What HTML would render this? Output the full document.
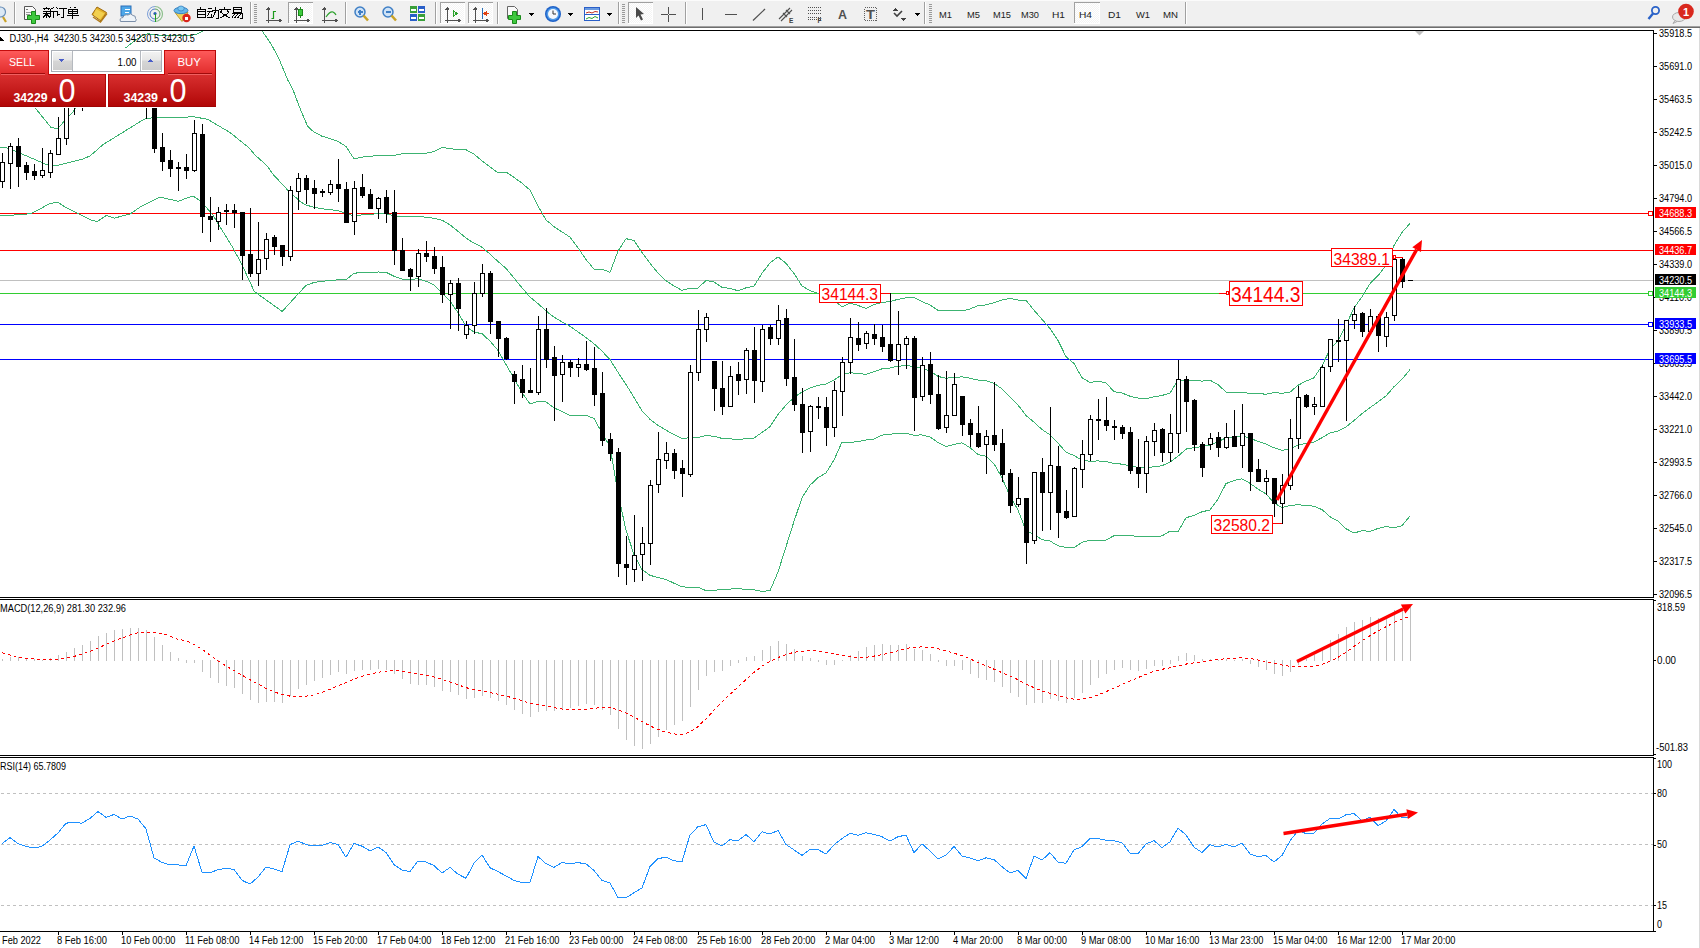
<!DOCTYPE html><html><head><meta charset="utf-8"><style>html,body{margin:0;padding:0;background:#fff;overflow:hidden}svg{display:block}</style></head><body><svg width="1700" height="948" viewBox="0 0 1700 948" shape-rendering="crispEdges" font-family="Liberation Sans, sans-serif">
<rect x="0" y="28" width="1700" height="920" fill="#ffffff"/>
<rect x="1699" y="28" width="1" height="920" fill="#dadada"/>
<rect x="0" y="30" width="1653" height="1" fill="#000"/>
<polygon points="1415,31 1424,31 1419.5,35.5" fill="#c0c0c0" shape-rendering="auto"/>
<rect x="1653" y="30" width="1" height="568" fill="#000"/>
<rect x="0" y="597" width="1654" height="1" fill="#000"/>
<rect x="0" y="599" width="1654" height="1" fill="#000"/>
<rect x="1653" y="599" width="1" height="157" fill="#000"/>
<rect x="0" y="755" width="1654" height="1" fill="#000"/>
<rect x="0" y="757" width="1654" height="1" fill="#000"/>
<rect x="1653" y="757" width="1" height="175" fill="#000"/>
<rect x="0" y="931" width="1654" height="1" fill="#000"/>
<rect x="0" y="213" width="1653" height="1" fill="#ff0000"/>
<rect x="1648.5" y="211.5" width="4" height="4" fill="#fff" stroke="#ff0000" stroke-width="1"/>
<rect x="0" y="250" width="1653" height="1" fill="#ff0000"/>
<rect x="0" y="280" width="1653" height="1" fill="#c0c0c0"/>
<rect x="0" y="293" width="1653" height="1" fill="#32cd32"/>
<rect x="1648.5" y="291.5" width="4" height="4" fill="#fff" stroke="#32cd32" stroke-width="1"/>
<rect x="0" y="324" width="1653" height="1" fill="#0000ff"/>
<rect x="1648.5" y="322.5" width="4" height="4" fill="#fff" stroke="#0000ff" stroke-width="1"/>
<rect x="0" y="359" width="1653" height="1" fill="#0000ff"/>
<clipPath id="mainclip"><rect x="0" y="31" width="1653" height="566"/></clipPath>
<g clip-path="url(#mainclip)">
<polyline points="0.0,88.0 30.0,102.0 36.2,109.2 50.9,127.3 57.6,128.8 63.5,122.0 73.8,111.0 90.0,80.0 110.0,60.0 125.9,47.7 136.2,39.6 145.3,34.2 149.0,33.8 162.0,35.8 172.5,36.0 184.0,35.8 190.6,35.5 195.8,34.5 203.5,30.6 215.0,18.0 250.0,18.0 261.8,30.6 270.8,43.5 278.6,57.8 287.7,79.8 293.1,90.0 300.4,109.4 307.7,126.4 314.0,132.1 322.0,136.2 330.0,138.6 338.0,141.4 346.0,146.5 354.0,158.8 362.0,157.1 370.0,156.4 378.0,155.3 386.0,155.5 394.0,155.4 402.0,153.9 410.0,153.5 418.0,154.0 426.0,153.2 434.0,151.6 442.0,147.4 450.0,148.5 458.0,150.0 466.0,149.7 474.0,154.2 482.0,160.8 490.0,167.0 498.0,172.7 506.0,172.1 514.0,177.4 522.0,183.2 530.0,190.0 538.0,206.0 546.0,219.9 554.0,226.6 562.0,231.9 570.0,237.1 578.0,247.8 586.0,259.5 594.0,269.1 602.0,269.1 610.0,272.4 618.0,251.1 626.0,238.7 634.0,240.4 642.0,252.5 650.0,263.2 658.0,273.1 666.0,280.7 674.0,285.9 682.0,290.4 690.0,288.0 698.0,288.0 706.0,280.5 714.0,282.0 722.0,287.3 730.0,288.5 738.0,290.7 746.0,287.8 754.0,286.1 762.0,273.3 770.0,262.8 778.0,256.9 786.0,263.3 794.0,273.5 802.0,286.0 810.0,290.7 818.0,293.2 826.0,295.1 834.0,300.2 842.0,306.8 850.0,303.0 858.0,305.4 866.0,308.5 874.0,304.5 882.0,302.5 890.0,301.6 898.0,299.3 906.0,297.9 914.0,297.6 922.0,301.6 930.0,305.0 938.0,310.4 946.0,310.1 954.0,310.1 962.0,310.9 970.0,308.9 978.0,305.7 986.0,304.9 994.0,302.8 1002.0,300.0 1010.0,298.4 1018.0,300.1 1026.0,300.2 1034.0,310.2 1042.0,319.4 1050.0,328.5 1058.0,340.4 1066.0,356.7 1074.0,363.5 1082.0,377.7 1090.0,382.5 1098.0,381.2 1106.0,382.9 1114.0,391.6 1122.0,393.0 1130.0,396.2 1138.0,398.1 1146.0,398.7 1154.0,396.8 1162.0,395.5 1170.0,393.0 1178.0,380.3 1186.0,380.5 1194.0,380.0 1202.0,381.1 1210.0,380.2 1218.0,384.6 1226.0,392.0 1234.0,392.9 1242.0,392.6 1250.0,393.2 1258.0,393.6 1266.0,394.2 1274.0,392.5 1282.0,393.3 1290.0,392.2 1298.0,385.3 1306.0,381.1 1314.0,377.8 1322.0,365.8 1330.0,349.2 1338.0,340.9 1346.0,325.4 1354.0,307.9 1362.0,296.7 1370.0,283.7 1378.0,275.7 1386.0,265.5 1394.0,245.5 1402.0,232.4 1410.0,223.3" fill="none" stroke="#3cb371" stroke-width="1" shape-rendering="crispEdges" />
<polyline points="0.0,147.0 5.9,147.5 14.8,151.0 22.0,154.0 45.8,164.2 53.0,165.3 59.0,165.0 82.7,159.0 90.0,156.0 103.4,144.3 118.0,135.4 144.0,119.2 154.4,117.3 172.5,118.0 193.0,116.7 207.4,119.2 230.0,132.5 249.8,148.5 254.3,154.3 266.6,165.4 273.7,175.0 288.3,190.7 300.4,201.7 306.0,205.0 314.0,207.3 322.0,208.8 330.0,209.6 338.0,210.6 346.0,213.2 354.0,216.0 362.0,214.9 370.0,214.4 378.0,213.7 386.0,213.8 394.0,215.8 402.0,216.5 410.0,216.6 418.0,216.3 426.0,217.2 434.0,218.3 442.0,220.2 450.0,224.9 458.0,231.3 466.0,238.1 474.0,243.1 482.0,247.2 490.0,254.1 498.0,261.5 506.0,268.3 514.0,278.0 522.0,287.8 530.0,297.0 538.0,303.6 546.0,310.9 554.0,317.2 562.0,321.8 570.0,326.3 578.0,331.9 586.0,337.5 594.0,343.8 602.0,351.1 610.0,359.6 618.0,372.3 626.0,384.4 634.0,397.5 642.0,411.0 650.0,419.3 658.0,425.3 666.0,430.1 674.0,434.6 682.0,438.6 690.0,437.6 698.0,437.6 706.0,435.6 714.0,436.2 722.0,438.4 730.0,438.8 738.0,439.6 746.0,438.7 754.0,438.0 762.0,432.4 770.0,426.7 778.0,414.5 786.0,405.0 794.0,397.5 802.0,391.9 810.0,388.0 818.0,385.4 826.0,384.0 834.0,380.1 842.0,374.5 850.0,372.7 858.0,373.5 866.0,374.3 874.0,371.8 882.0,368.8 890.0,368.0 898.0,366.2 906.0,365.6 914.0,366.4 922.0,368.2 930.0,371.0 938.0,376.4 946.0,378.3 954.0,377.3 962.0,376.9 970.0,378.2 978.0,380.1 986.0,380.6 994.0,383.3 1002.0,388.9 1010.0,397.3 1018.0,405.0 1026.0,415.5 1034.0,422.2 1042.0,429.5 1050.0,434.8 1058.0,443.1 1066.0,452.1 1074.0,455.6 1082.0,460.1 1090.0,461.4 1098.0,460.9 1106.0,461.5 1114.0,463.6 1122.0,464.1 1130.0,465.9 1138.0,467.3 1146.0,467.5 1154.0,466.8 1162.0,465.7 1170.0,462.1 1178.0,456.2 1186.0,449.1 1194.0,447.7 1202.0,446.5 1210.0,445.1 1218.0,441.8 1226.0,437.8 1234.0,436.7 1242.0,435.7 1250.0,438.2 1258.0,441.4 1266.0,444.0 1274.0,447.8 1282.0,450.4 1290.0,448.8 1298.0,445.0 1306.0,443.3 1314.0,442.0 1322.0,437.7 1330.0,433.0 1338.0,431.1 1346.0,427.0 1354.0,420.5 1362.0,413.7 1370.0,407.6 1378.0,402.0 1386.0,396.0 1394.0,386.7 1402.0,379.1 1410.0,369.6" fill="none" stroke="#3cb371" stroke-width="1" shape-rendering="crispEdges" />
<polyline points="0.0,215.2 22.0,214.9 32.5,213.0 50.2,203.4 57.6,202.2 65.0,207.0 76.8,213.0 91.5,220.3 97.4,221.4 106.3,215.5 114.4,218.1 130.0,214.0 140.3,207.0 160.0,197.0 178.0,201.3 192.8,196.0 201.0,201.3 212.8,215.0 232.9,247.8 242.0,264.8 254.3,291.5 282.2,311.4 300.4,291.5 306.0,285.5 314.0,282.4 322.0,281.3 330.0,280.6 338.0,279.8 346.0,279.9 354.0,273.1 362.0,272.8 370.0,272.3 378.0,272.0 386.0,272.2 394.0,276.2 402.0,279.1 410.0,279.7 418.0,278.6 426.0,281.2 434.0,284.9 442.0,293.0 450.0,301.2 458.0,312.6 466.0,326.5 474.0,332.1 482.0,333.7 490.0,341.1 498.0,350.4 506.0,364.5 514.0,378.5 522.0,392.4 530.0,404.1 538.0,401.2 546.0,401.9 554.0,407.8 562.0,411.6 570.0,415.6 578.0,415.9 586.0,415.4 594.0,418.4 602.0,433.0 610.0,446.7 618.0,493.5 626.0,530.2 634.0,554.7 642.0,569.6 650.0,575.3 658.0,577.6 666.0,579.5 674.0,583.2 682.0,586.8 690.0,587.3 698.0,587.3 706.0,590.6 714.0,590.4 722.0,589.5 730.0,589.1 738.0,588.5 746.0,589.6 754.0,589.8 762.0,591.5 770.0,590.6 778.0,572.1 786.0,546.8 794.0,521.4 802.0,497.8 810.0,485.2 818.0,477.6 826.0,473.0 834.0,459.9 842.0,442.2 850.0,442.4 858.0,441.6 866.0,440.0 874.0,439.1 882.0,435.1 890.0,434.3 898.0,433.1 906.0,433.3 914.0,435.2 922.0,434.9 930.0,437.0 938.0,442.5 946.0,446.4 954.0,444.4 962.0,442.8 970.0,447.6 978.0,454.5 986.0,456.3 994.0,463.8 1002.0,477.8 1010.0,496.2 1018.0,510.0 1026.0,530.7 1034.0,534.2 1042.0,539.6 1050.0,541.0 1058.0,545.8 1066.0,547.5 1074.0,547.8 1082.0,542.4 1090.0,540.2 1098.0,540.6 1106.0,540.0 1114.0,535.7 1122.0,535.2 1130.0,535.7 1138.0,536.4 1146.0,536.3 1154.0,536.8 1162.0,535.9 1170.0,531.2 1178.0,532.0 1186.0,517.7 1194.0,515.5 1202.0,511.8 1210.0,510.0 1218.0,499.1 1226.0,483.6 1234.0,480.5 1242.0,478.8 1250.0,483.3 1258.0,489.2 1266.0,493.8 1274.0,503.1 1282.0,507.5 1290.0,505.4 1298.0,504.8 1306.0,505.4 1314.0,506.2 1322.0,509.6 1330.0,516.7 1338.0,521.2 1346.0,528.7 1354.0,533.1 1362.0,530.6 1370.0,531.5 1378.0,528.4 1386.0,526.5 1394.0,527.9 1402.0,525.8 1410.0,515.9" fill="none" stroke="#3cb371" stroke-width="1" shape-rendering="crispEdges" />
</g>
<rect x="2" y="153" width="1" height="35" fill="#000"/><rect x="0" y="162" width="5" height="20" fill="#000"/><rect x="1" y="163" width="3" height="18" fill="#fff"/><rect x="10" y="143" width="1" height="46" fill="#000"/><rect x="8" y="146" width="5" height="18" fill="#000"/><rect x="9" y="147" width="3" height="16" fill="#fff"/><rect x="18" y="138" width="1" height="49" fill="#000"/><rect x="16" y="146" width="5" height="21" fill="#000"/><rect x="26" y="162" width="1" height="18" fill="#000"/><rect x="24" y="165" width="5" height="8" fill="#000"/><rect x="34" y="164" width="1" height="16" fill="#000"/><rect x="32" y="171" width="5" height="5" fill="#000"/><rect x="42" y="148" width="1" height="30" fill="#000"/><rect x="40" y="170" width="5" height="6" fill="#000"/><rect x="41" y="171" width="3" height="4" fill="#fff"/><rect x="50" y="150" width="1" height="28" fill="#000"/><rect x="48" y="153" width="5" height="20" fill="#000"/><rect x="49" y="154" width="3" height="18" fill="#fff"/><rect x="58" y="117" width="1" height="37" fill="#000"/><rect x="56" y="138" width="5" height="17" fill="#000"/><rect x="57" y="139" width="3" height="15" fill="#fff"/><rect x="66" y="90" width="1" height="55" fill="#000"/><rect x="64" y="100" width="5" height="39" fill="#000"/><rect x="65" y="101" width="3" height="37" fill="#fff"/><rect x="74" y="80" width="1" height="35" fill="#000"/><rect x="72" y="88" width="5" height="13" fill="#000"/><rect x="73" y="89" width="3" height="11" fill="#fff"/><rect x="82" y="75" width="1" height="36" fill="#000"/><rect x="80" y="90" width="5" height="6" fill="#000"/><rect x="90" y="65" width="1" height="36" fill="#000"/><rect x="88" y="78" width="5" height="15" fill="#000"/><rect x="89" y="79" width="3" height="13" fill="#fff"/><rect x="98" y="60" width="1" height="36" fill="#000"/><rect x="96" y="70" width="5" height="11" fill="#000"/><rect x="97" y="71" width="3" height="9" fill="#fff"/><rect x="106" y="58" width="1" height="33" fill="#000"/><rect x="104" y="70" width="5" height="7" fill="#000"/><rect x="114" y="55" width="1" height="31" fill="#000"/><rect x="112" y="62" width="5" height="11" fill="#000"/><rect x="113" y="63" width="3" height="9" fill="#fff"/><rect x="122" y="58" width="1" height="38" fill="#000"/><rect x="120" y="65" width="5" height="16" fill="#000"/><rect x="130" y="62" width="1" height="31" fill="#000"/><rect x="128" y="72" width="5" height="9" fill="#000"/><rect x="129" y="73" width="3" height="7" fill="#fff"/><rect x="138" y="60" width="1" height="31" fill="#000"/><rect x="136" y="68" width="5" height="7" fill="#000"/><rect x="137" y="69" width="3" height="5" fill="#fff"/><rect x="146" y="65" width="1" height="54" fill="#000"/><rect x="144" y="72" width="5" height="29" fill="#000"/><rect x="154" y="100" width="1" height="53" fill="#000"/><rect x="152" y="106" width="5" height="43" fill="#000"/><rect x="162" y="133" width="1" height="38" fill="#000"/><rect x="160" y="147" width="5" height="15" fill="#000"/><rect x="170" y="150" width="1" height="27" fill="#000"/><rect x="168" y="160" width="5" height="9" fill="#000"/><rect x="178" y="162" width="1" height="29" fill="#000"/><rect x="176" y="167" width="5" height="2" fill="#000"/><rect x="186" y="154" width="1" height="25" fill="#000"/><rect x="184" y="167" width="5" height="4" fill="#000"/><rect x="194" y="120" width="1" height="52" fill="#000"/><rect x="192" y="133" width="5" height="38" fill="#000"/><rect x="193" y="134" width="3" height="36" fill="#fff"/><rect x="202" y="124" width="1" height="109" fill="#000"/><rect x="200" y="134" width="5" height="83" fill="#000"/><rect x="210" y="197" width="1" height="45" fill="#000"/><rect x="208" y="216" width="5" height="4" fill="#000"/><rect x="218" y="207" width="1" height="23" fill="#000"/><rect x="216" y="212" width="5" height="10" fill="#000"/><rect x="217" y="213" width="3" height="8" fill="#fff"/><rect x="226" y="204" width="1" height="21" fill="#000"/><rect x="224" y="210" width="5" height="2" fill="#000"/><rect x="234" y="204" width="1" height="24" fill="#000"/><rect x="232" y="210" width="5" height="3" fill="#000"/><rect x="242" y="212" width="1" height="68" fill="#000"/><rect x="240" y="212" width="5" height="44" fill="#000"/><rect x="250" y="208" width="1" height="69" fill="#000"/><rect x="248" y="254" width="5" height="20" fill="#000"/><rect x="258" y="222" width="1" height="64" fill="#000"/><rect x="256" y="259" width="5" height="15" fill="#000"/><rect x="257" y="260" width="3" height="13" fill="#fff"/><rect x="266" y="233" width="1" height="37" fill="#000"/><rect x="264" y="239" width="5" height="20" fill="#000"/><rect x="265" y="240" width="3" height="18" fill="#fff"/><rect x="274" y="235" width="1" height="20" fill="#000"/><rect x="272" y="237" width="5" height="10" fill="#000"/><rect x="282" y="245" width="1" height="21" fill="#000"/><rect x="280" y="245" width="5" height="12" fill="#000"/><rect x="290" y="186" width="1" height="75" fill="#000"/><rect x="288" y="190" width="5" height="67" fill="#000"/><rect x="289" y="191" width="3" height="65" fill="#fff"/><rect x="298" y="173" width="1" height="37" fill="#000"/><rect x="296" y="178" width="5" height="14" fill="#000"/><rect x="297" y="179" width="3" height="12" fill="#fff"/><rect x="306" y="175" width="1" height="29" fill="#000"/><rect x="304" y="178" width="5" height="12" fill="#000"/><rect x="314" y="180" width="1" height="29" fill="#000"/><rect x="312" y="188" width="5" height="6" fill="#000"/><rect x="322" y="189" width="1" height="8" fill="#000"/><rect x="320" y="191" width="5" height="2" fill="#000"/><rect x="330" y="180" width="1" height="15" fill="#000"/><rect x="328" y="184" width="5" height="9" fill="#000"/><rect x="329" y="185" width="3" height="7" fill="#fff"/><rect x="338" y="159" width="1" height="43" fill="#000"/><rect x="336" y="184" width="5" height="5" fill="#000"/><rect x="346" y="182" width="1" height="41" fill="#000"/><rect x="344" y="189" width="5" height="34" fill="#000"/><rect x="354" y="181" width="1" height="54" fill="#000"/><rect x="352" y="188" width="5" height="34" fill="#000"/><rect x="353" y="189" width="3" height="32" fill="#fff"/><rect x="362" y="174" width="1" height="24" fill="#000"/><rect x="360" y="187" width="5" height="9" fill="#000"/><rect x="370" y="189" width="1" height="20" fill="#000"/><rect x="368" y="194" width="5" height="15" fill="#000"/><rect x="378" y="197" width="1" height="22" fill="#000"/><rect x="376" y="198" width="5" height="11" fill="#000"/><rect x="377" y="199" width="3" height="9" fill="#fff"/><rect x="386" y="190" width="1" height="33" fill="#000"/><rect x="384" y="197" width="5" height="17" fill="#000"/><rect x="394" y="190" width="1" height="75" fill="#000"/><rect x="392" y="212" width="5" height="39" fill="#000"/><rect x="402" y="238" width="1" height="33" fill="#000"/><rect x="400" y="250" width="5" height="21" fill="#000"/><rect x="410" y="268" width="1" height="23" fill="#000"/><rect x="408" y="269" width="5" height="8" fill="#000"/><rect x="418" y="249" width="1" height="38" fill="#000"/><rect x="416" y="253" width="5" height="24" fill="#000"/><rect x="417" y="254" width="3" height="22" fill="#fff"/><rect x="426" y="241" width="1" height="21" fill="#000"/><rect x="424" y="253" width="5" height="4" fill="#000"/><rect x="434" y="247" width="1" height="27" fill="#000"/><rect x="432" y="256" width="5" height="13" fill="#000"/><rect x="442" y="256" width="1" height="47" fill="#000"/><rect x="440" y="267" width="5" height="28" fill="#000"/><rect x="450" y="280" width="1" height="49" fill="#000"/><rect x="448" y="283" width="5" height="12" fill="#000"/><rect x="449" y="284" width="3" height="10" fill="#fff"/><rect x="458" y="278" width="1" height="53" fill="#000"/><rect x="456" y="283" width="5" height="26" fill="#000"/><rect x="466" y="321" width="1" height="18" fill="#000"/><rect x="464" y="325" width="5" height="10" fill="#000"/><rect x="465" y="326" width="3" height="8" fill="#fff"/><rect x="474" y="282" width="1" height="52" fill="#000"/><rect x="472" y="293" width="5" height="33" fill="#000"/><rect x="473" y="294" width="3" height="31" fill="#fff"/><rect x="482" y="264" width="1" height="33" fill="#000"/><rect x="480" y="273" width="5" height="21" fill="#000"/><rect x="481" y="274" width="3" height="19" fill="#fff"/><rect x="490" y="271" width="1" height="63" fill="#000"/><rect x="488" y="273" width="5" height="49" fill="#000"/><rect x="498" y="321" width="1" height="36" fill="#000"/><rect x="496" y="321" width="5" height="18" fill="#000"/><rect x="506" y="337" width="1" height="23" fill="#000"/><rect x="504" y="338" width="5" height="21" fill="#000"/><rect x="514" y="371" width="1" height="33" fill="#000"/><rect x="512" y="374" width="5" height="8" fill="#000"/><rect x="522" y="365" width="1" height="33" fill="#000"/><rect x="520" y="379" width="5" height="14" fill="#000"/><rect x="530" y="368" width="1" height="25" fill="#000"/><rect x="528" y="390" width="5" height="3" fill="#000"/><rect x="538" y="316" width="1" height="79" fill="#000"/><rect x="536" y="329" width="5" height="64" fill="#000"/><rect x="537" y="330" width="3" height="62" fill="#fff"/><rect x="546" y="308" width="1" height="60" fill="#000"/><rect x="544" y="329" width="5" height="31" fill="#000"/><rect x="554" y="346" width="1" height="75" fill="#000"/><rect x="552" y="357" width="5" height="19" fill="#000"/><rect x="562" y="355" width="1" height="47" fill="#000"/><rect x="560" y="362" width="5" height="13" fill="#000"/><rect x="561" y="363" width="3" height="11" fill="#fff"/><rect x="570" y="360" width="1" height="17" fill="#000"/><rect x="568" y="362" width="5" height="6" fill="#000"/><rect x="578" y="358" width="1" height="19" fill="#000"/><rect x="576" y="364" width="5" height="4" fill="#000"/><rect x="577" y="365" width="3" height="2" fill="#fff"/><rect x="586" y="341" width="1" height="30" fill="#000"/><rect x="584" y="364" width="5" height="6" fill="#000"/><rect x="594" y="347" width="1" height="59" fill="#000"/><rect x="592" y="368" width="5" height="27" fill="#000"/><rect x="602" y="372" width="1" height="74" fill="#000"/><rect x="600" y="393" width="5" height="48" fill="#000"/><rect x="610" y="433" width="1" height="28" fill="#000"/><rect x="608" y="439" width="5" height="15" fill="#000"/><rect x="618" y="448" width="1" height="129" fill="#000"/><rect x="616" y="452" width="5" height="112" fill="#000"/><rect x="626" y="536" width="1" height="49" fill="#000"/><rect x="624" y="564" width="5" height="4" fill="#000"/><rect x="634" y="515" width="1" height="67" fill="#000"/><rect x="632" y="555" width="5" height="15" fill="#000"/><rect x="633" y="556" width="3" height="13" fill="#fff"/><rect x="642" y="527" width="1" height="54" fill="#000"/><rect x="640" y="543" width="5" height="12" fill="#000"/><rect x="641" y="544" width="3" height="10" fill="#fff"/><rect x="650" y="480" width="1" height="85" fill="#000"/><rect x="648" y="485" width="5" height="59" fill="#000"/><rect x="649" y="486" width="3" height="57" fill="#fff"/><rect x="658" y="432" width="1" height="61" fill="#000"/><rect x="656" y="459" width="5" height="26" fill="#000"/><rect x="657" y="460" width="3" height="24" fill="#fff"/><rect x="666" y="442" width="1" height="27" fill="#000"/><rect x="664" y="453" width="5" height="8" fill="#000"/><rect x="665" y="454" width="3" height="6" fill="#fff"/><rect x="674" y="449" width="1" height="30" fill="#000"/><rect x="672" y="453" width="5" height="18" fill="#000"/><rect x="682" y="460" width="1" height="37" fill="#000"/><rect x="680" y="468" width="5" height="6" fill="#000"/><rect x="690" y="365" width="1" height="112" fill="#000"/><rect x="688" y="372" width="5" height="103" fill="#000"/><rect x="689" y="373" width="3" height="101" fill="#fff"/><rect x="698" y="310" width="1" height="71" fill="#000"/><rect x="696" y="329" width="5" height="44" fill="#000"/><rect x="697" y="330" width="3" height="42" fill="#fff"/><rect x="706" y="313" width="1" height="29" fill="#000"/><rect x="704" y="317" width="5" height="13" fill="#000"/><rect x="705" y="318" width="3" height="11" fill="#fff"/><rect x="714" y="361" width="1" height="50" fill="#000"/><rect x="712" y="361" width="5" height="28" fill="#000"/><rect x="722" y="361" width="1" height="54" fill="#000"/><rect x="720" y="388" width="5" height="19" fill="#000"/><rect x="730" y="366" width="1" height="41" fill="#000"/><rect x="728" y="376" width="5" height="31" fill="#000"/><rect x="729" y="377" width="3" height="29" fill="#fff"/><rect x="738" y="362" width="1" height="33" fill="#000"/><rect x="736" y="374" width="5" height="7" fill="#000"/><rect x="746" y="348" width="1" height="46" fill="#000"/><rect x="744" y="350" width="5" height="30" fill="#000"/><rect x="745" y="351" width="3" height="28" fill="#fff"/><rect x="754" y="327" width="1" height="76" fill="#000"/><rect x="752" y="350" width="5" height="31" fill="#000"/><rect x="762" y="325" width="1" height="67" fill="#000"/><rect x="760" y="329" width="5" height="53" fill="#000"/><rect x="761" y="330" width="3" height="51" fill="#fff"/><rect x="770" y="325" width="1" height="20" fill="#000"/><rect x="768" y="327" width="5" height="12" fill="#000"/><rect x="778" y="305" width="1" height="40" fill="#000"/><rect x="776" y="320" width="5" height="19" fill="#000"/><rect x="777" y="321" width="3" height="17" fill="#fff"/><rect x="786" y="309" width="1" height="77" fill="#000"/><rect x="784" y="318" width="5" height="61" fill="#000"/><rect x="794" y="339" width="1" height="72" fill="#000"/><rect x="792" y="377" width="5" height="28" fill="#000"/><rect x="802" y="388" width="1" height="65" fill="#000"/><rect x="800" y="404" width="5" height="29" fill="#000"/><rect x="810" y="405" width="1" height="47" fill="#000"/><rect x="808" y="406" width="5" height="26" fill="#000"/><rect x="809" y="407" width="3" height="24" fill="#fff"/><rect x="818" y="397" width="1" height="22" fill="#000"/><rect x="816" y="406" width="5" height="2" fill="#000"/><rect x="826" y="397" width="1" height="49" fill="#000"/><rect x="824" y="407" width="5" height="21" fill="#000"/><rect x="834" y="381" width="1" height="56" fill="#000"/><rect x="832" y="390" width="5" height="38" fill="#000"/><rect x="833" y="391" width="3" height="36" fill="#fff"/><rect x="842" y="357" width="1" height="59" fill="#000"/><rect x="840" y="362" width="5" height="30" fill="#000"/><rect x="841" y="363" width="3" height="28" fill="#fff"/><rect x="850" y="318" width="1" height="56" fill="#000"/><rect x="848" y="337" width="5" height="26" fill="#000"/><rect x="849" y="338" width="3" height="24" fill="#fff"/><rect x="858" y="322" width="1" height="29" fill="#000"/><rect x="856" y="338" width="5" height="7" fill="#000"/><rect x="866" y="331" width="1" height="18" fill="#000"/><rect x="864" y="333" width="5" height="11" fill="#000"/><rect x="865" y="334" width="3" height="9" fill="#fff"/><rect x="874" y="324" width="1" height="21" fill="#000"/><rect x="872" y="334" width="5" height="5" fill="#000"/><rect x="882" y="325" width="1" height="27" fill="#000"/><rect x="880" y="337" width="5" height="10" fill="#000"/><rect x="890" y="293" width="1" height="69" fill="#000"/><rect x="888" y="344" width="5" height="17" fill="#000"/><rect x="898" y="311" width="1" height="64" fill="#000"/><rect x="896" y="344" width="5" height="17" fill="#000"/><rect x="897" y="345" width="3" height="15" fill="#fff"/><rect x="906" y="336" width="1" height="33" fill="#000"/><rect x="904" y="338" width="5" height="7" fill="#000"/><rect x="905" y="339" width="3" height="5" fill="#fff"/><rect x="914" y="336" width="1" height="95" fill="#000"/><rect x="912" y="338" width="5" height="60" fill="#000"/><rect x="922" y="357" width="1" height="44" fill="#000"/><rect x="920" y="365" width="5" height="32" fill="#000"/><rect x="921" y="366" width="3" height="30" fill="#fff"/><rect x="930" y="352" width="1" height="52" fill="#000"/><rect x="928" y="364" width="5" height="31" fill="#000"/><rect x="938" y="375" width="1" height="55" fill="#000"/><rect x="936" y="394" width="5" height="35" fill="#000"/><rect x="946" y="371" width="1" height="62" fill="#000"/><rect x="944" y="415" width="5" height="13" fill="#000"/><rect x="945" y="416" width="3" height="11" fill="#fff"/><rect x="954" y="373" width="1" height="43" fill="#000"/><rect x="952" y="384" width="5" height="32" fill="#000"/><rect x="953" y="385" width="3" height="30" fill="#fff"/><rect x="962" y="396" width="1" height="40" fill="#000"/><rect x="960" y="396" width="5" height="29" fill="#000"/><rect x="970" y="419" width="1" height="28" fill="#000"/><rect x="968" y="423" width="5" height="12" fill="#000"/><rect x="978" y="406" width="1" height="42" fill="#000"/><rect x="976" y="433" width="5" height="14" fill="#000"/><rect x="986" y="430" width="1" height="44" fill="#000"/><rect x="984" y="436" width="5" height="9" fill="#000"/><rect x="985" y="437" width="3" height="7" fill="#fff"/><rect x="994" y="382" width="1" height="69" fill="#000"/><rect x="992" y="435" width="5" height="10" fill="#000"/><rect x="1002" y="429" width="1" height="53" fill="#000"/><rect x="1000" y="443" width="5" height="32" fill="#000"/><rect x="1010" y="469" width="1" height="44" fill="#000"/><rect x="1008" y="473" width="5" height="33" fill="#000"/><rect x="1018" y="477" width="1" height="30" fill="#000"/><rect x="1016" y="498" width="5" height="7" fill="#000"/><rect x="1017" y="499" width="3" height="5" fill="#fff"/><rect x="1026" y="498" width="1" height="66" fill="#000"/><rect x="1024" y="498" width="5" height="45" fill="#000"/><rect x="1034" y="472" width="1" height="72" fill="#000"/><rect x="1032" y="472" width="5" height="69" fill="#000"/><rect x="1033" y="473" width="3" height="67" fill="#fff"/><rect x="1042" y="458" width="1" height="73" fill="#000"/><rect x="1040" y="472" width="5" height="21" fill="#000"/><rect x="1050" y="407" width="1" height="123" fill="#000"/><rect x="1048" y="465" width="5" height="28" fill="#000"/><rect x="1049" y="466" width="3" height="26" fill="#fff"/><rect x="1058" y="446" width="1" height="92" fill="#000"/><rect x="1056" y="466" width="5" height="47" fill="#000"/><rect x="1066" y="490" width="1" height="29" fill="#000"/><rect x="1064" y="511" width="5" height="7" fill="#000"/><rect x="1074" y="467" width="1" height="50" fill="#000"/><rect x="1072" y="468" width="5" height="49" fill="#000"/><rect x="1073" y="469" width="3" height="47" fill="#fff"/><rect x="1082" y="440" width="1" height="48" fill="#000"/><rect x="1080" y="454" width="5" height="16" fill="#000"/><rect x="1081" y="455" width="3" height="14" fill="#fff"/><rect x="1090" y="415" width="1" height="46" fill="#000"/><rect x="1088" y="419" width="5" height="36" fill="#000"/><rect x="1089" y="420" width="3" height="34" fill="#fff"/><rect x="1098" y="399" width="1" height="41" fill="#000"/><rect x="1096" y="419" width="5" height="2" fill="#000"/><rect x="1106" y="397" width="1" height="34" fill="#000"/><rect x="1104" y="420" width="5" height="6" fill="#000"/><rect x="1114" y="420" width="1" height="20" fill="#000"/><rect x="1112" y="426" width="5" height="2" fill="#000"/><rect x="1122" y="425" width="1" height="14" fill="#000"/><rect x="1120" y="427" width="5" height="7" fill="#000"/><rect x="1130" y="427" width="1" height="47" fill="#000"/><rect x="1128" y="432" width="5" height="39" fill="#000"/><rect x="1138" y="439" width="1" height="49" fill="#000"/><rect x="1136" y="467" width="5" height="7" fill="#000"/><rect x="1146" y="436" width="1" height="57" fill="#000"/><rect x="1144" y="441" width="5" height="33" fill="#000"/><rect x="1145" y="442" width="3" height="31" fill="#fff"/><rect x="1154" y="423" width="1" height="33" fill="#000"/><rect x="1152" y="430" width="5" height="12" fill="#000"/><rect x="1153" y="431" width="3" height="10" fill="#fff"/><rect x="1162" y="428" width="1" height="34" fill="#000"/><rect x="1160" y="429" width="5" height="24" fill="#000"/><rect x="1170" y="414" width="1" height="48" fill="#000"/><rect x="1168" y="433" width="5" height="20" fill="#000"/><rect x="1169" y="434" width="3" height="18" fill="#fff"/><rect x="1178" y="360" width="1" height="93" fill="#000"/><rect x="1176" y="379" width="5" height="55" fill="#000"/><rect x="1177" y="380" width="3" height="53" fill="#fff"/><rect x="1186" y="376" width="1" height="56" fill="#000"/><rect x="1184" y="379" width="5" height="23" fill="#000"/><rect x="1194" y="399" width="1" height="52" fill="#000"/><rect x="1192" y="400" width="5" height="45" fill="#000"/><rect x="1202" y="442" width="1" height="35" fill="#000"/><rect x="1200" y="444" width="5" height="24" fill="#000"/><rect x="1210" y="433" width="1" height="17" fill="#000"/><rect x="1208" y="438" width="5" height="7" fill="#000"/><rect x="1209" y="439" width="3" height="5" fill="#fff"/><rect x="1218" y="432" width="1" height="25" fill="#000"/><rect x="1216" y="437" width="5" height="11" fill="#000"/><rect x="1226" y="423" width="1" height="26" fill="#000"/><rect x="1224" y="437" width="5" height="11" fill="#000"/><rect x="1225" y="438" width="3" height="9" fill="#fff"/><rect x="1234" y="410" width="1" height="37" fill="#000"/><rect x="1232" y="436" width="5" height="11" fill="#000"/><rect x="1242" y="404" width="1" height="64" fill="#000"/><rect x="1240" y="433" width="5" height="13" fill="#000"/><rect x="1241" y="434" width="3" height="11" fill="#fff"/><rect x="1250" y="433" width="1" height="58" fill="#000"/><rect x="1248" y="433" width="5" height="39" fill="#000"/><rect x="1258" y="459" width="1" height="23" fill="#000"/><rect x="1256" y="469" width="5" height="13" fill="#000"/><rect x="1266" y="470" width="1" height="25" fill="#000"/><rect x="1264" y="478" width="5" height="4" fill="#000"/><rect x="1265" y="479" width="3" height="2" fill="#fff"/><rect x="1274" y="479" width="1" height="38" fill="#000"/><rect x="1272" y="478" width="5" height="26" fill="#000"/><rect x="1282" y="474" width="1" height="50" fill="#000"/><rect x="1280" y="485" width="5" height="19" fill="#000"/><rect x="1281" y="486" width="3" height="17" fill="#fff"/><rect x="1290" y="419" width="1" height="71" fill="#000"/><rect x="1288" y="438" width="5" height="48" fill="#000"/><rect x="1289" y="439" width="3" height="46" fill="#fff"/><rect x="1298" y="386" width="1" height="63" fill="#000"/><rect x="1296" y="397" width="5" height="42" fill="#000"/><rect x="1297" y="398" width="3" height="40" fill="#fff"/><rect x="1306" y="394" width="1" height="14" fill="#000"/><rect x="1304" y="395" width="5" height="12" fill="#000"/><rect x="1314" y="397" width="1" height="18" fill="#000"/><rect x="1312" y="404" width="5" height="3" fill="#000"/><rect x="1313" y="405" width="3" height="1" fill="#fff"/><rect x="1322" y="365" width="1" height="42" fill="#000"/><rect x="1320" y="367" width="5" height="40" fill="#000"/><rect x="1321" y="368" width="3" height="38" fill="#fff"/><rect x="1330" y="339" width="1" height="33" fill="#000"/><rect x="1328" y="339" width="5" height="28" fill="#000"/><rect x="1329" y="340" width="3" height="26" fill="#fff"/><rect x="1338" y="319" width="1" height="43" fill="#000"/><rect x="1336" y="340" width="5" height="2" fill="#000"/><rect x="1346" y="320" width="1" height="101" fill="#000"/><rect x="1344" y="320" width="5" height="21" fill="#000"/><rect x="1345" y="321" width="3" height="19" fill="#fff"/><rect x="1354" y="306" width="1" height="23" fill="#000"/><rect x="1352" y="314" width="5" height="7" fill="#000"/><rect x="1353" y="315" width="3" height="5" fill="#fff"/><rect x="1362" y="312" width="1" height="25" fill="#000"/><rect x="1360" y="313" width="5" height="19" fill="#000"/><rect x="1370" y="309" width="1" height="23" fill="#000"/><rect x="1368" y="316" width="5" height="16" fill="#000"/><rect x="1369" y="317" width="3" height="14" fill="#fff"/><rect x="1378" y="314" width="1" height="38" fill="#000"/><rect x="1376" y="316" width="5" height="20" fill="#000"/><rect x="1386" y="312" width="1" height="35" fill="#000"/><rect x="1384" y="317" width="5" height="20" fill="#000"/><rect x="1385" y="318" width="3" height="18" fill="#fff"/><rect x="1394" y="257" width="1" height="64" fill="#000"/><rect x="1392" y="259" width="5" height="57" fill="#000"/><rect x="1393" y="260" width="3" height="55" fill="#fff"/><rect x="1402" y="257" width="1" height="31" fill="#000"/><rect x="1400" y="259" width="5" height="23" fill="#000"/><rect x="1408" y="280" width="5" height="1" fill="#000"/>
<rect x="819.5" y="284.5" width="61" height="18" fill="#fff" stroke="#ff0000" stroke-width="1"/>
<text x="821.5" y="300" font-size="16" fill="#ff0000" textLength="56.5" lengthAdjust="spacingAndGlyphs" >34144.3</text>
<rect x="881" y="293" width="9" height="1" fill="#ff0000"/>
<rect x="1219" y="293" width="8" height="1" fill="#ff0000"/>
<rect x="1226.5" y="291.5" width="2" height="3" fill="#fff" stroke="#ff0000" stroke-width="1"/>
<rect x="1229.5" y="281.5" width="73" height="24" fill="#fff" stroke="#ff0000" stroke-width="1"/>
<text x="1231" y="302" font-size="22" fill="#ff0000" textLength="69.5" lengthAdjust="spacingAndGlyphs" >34144.3</text>
<rect x="1331.5" y="248.5" width="61" height="18" fill="#fff" stroke="#ff0000" stroke-width="1"/>
<text x="1333.5" y="264.5" font-size="16" fill="#ff0000" textLength="56.5" lengthAdjust="spacingAndGlyphs" >34389.1</text>
<rect x="1393.5" y="255.5" width="2" height="3" fill="#fff" stroke="#ff0000" stroke-width="1"/>
<rect x="1396" y="257" width="7" height="1" fill="#ff0000"/>
<rect x="1211.5" y="515.5" width="61" height="18" fill="#fff" stroke="#ff0000" stroke-width="1"/>
<text x="1213.5" y="531" font-size="16" fill="#ff0000" textLength="56.5" lengthAdjust="spacingAndGlyphs" >32580.2</text>
<rect x="1273" y="523" width="9" height="1" fill="#ff0000"/>
<rect x="2" y="659" width="1" height="2" fill="#c0c0c0"/><rect x="10" y="657" width="1" height="4" fill="#c0c0c0"/><rect x="18" y="657" width="1" height="4" fill="#c0c0c0"/><rect x="26" y="658" width="1" height="3" fill="#c0c0c0"/><rect x="34" y="659" width="1" height="2" fill="#c0c0c0"/><rect x="42" y="660" width="1" height="1" fill="#c0c0c0"/><rect x="50" y="658" width="1" height="3" fill="#c0c0c0"/><rect x="58" y="655" width="1" height="6" fill="#c0c0c0"/><rect x="66" y="652" width="1" height="9" fill="#c0c0c0"/><rect x="74" y="648" width="1" height="13" fill="#c0c0c0"/><rect x="82" y="645" width="1" height="16" fill="#c0c0c0"/><rect x="90" y="641" width="1" height="20" fill="#c0c0c0"/><rect x="98" y="636" width="1" height="25" fill="#c0c0c0"/><rect x="106" y="633" width="1" height="28" fill="#c0c0c0"/><rect x="114" y="630" width="1" height="31" fill="#c0c0c0"/><rect x="122" y="629" width="1" height="32" fill="#c0c0c0"/><rect x="130" y="628" width="1" height="33" fill="#c0c0c0"/><rect x="138" y="628" width="1" height="33" fill="#c0c0c0"/><rect x="146" y="630" width="1" height="31" fill="#c0c0c0"/><rect x="154" y="637" width="1" height="24" fill="#c0c0c0"/><rect x="162" y="645" width="1" height="16" fill="#c0c0c0"/><rect x="170" y="652" width="1" height="9" fill="#c0c0c0"/><rect x="178" y="658" width="1" height="3" fill="#c0c0c0"/><rect x="186" y="660" width="1" height="3" fill="#c0c0c0"/><rect x="194" y="660" width="1" height="3" fill="#c0c0c0"/><rect x="202" y="660" width="1" height="12" fill="#c0c0c0"/><rect x="210" y="660" width="1" height="18" fill="#c0c0c0"/><rect x="218" y="660" width="1" height="23" fill="#c0c0c0"/><rect x="226" y="660" width="1" height="26" fill="#c0c0c0"/><rect x="234" y="660" width="1" height="28" fill="#c0c0c0"/><rect x="242" y="660" width="1" height="34" fill="#c0c0c0"/><rect x="250" y="660" width="1" height="40" fill="#c0c0c0"/><rect x="258" y="660" width="1" height="43" fill="#c0c0c0"/><rect x="266" y="660" width="1" height="42" fill="#c0c0c0"/><rect x="274" y="660" width="1" height="42" fill="#c0c0c0"/><rect x="282" y="660" width="1" height="43" fill="#c0c0c0"/><rect x="290" y="660" width="1" height="36" fill="#c0c0c0"/><rect x="298" y="660" width="1" height="29" fill="#c0c0c0"/><rect x="306" y="660" width="1" height="25" fill="#c0c0c0"/><rect x="314" y="660" width="1" height="21" fill="#c0c0c0"/><rect x="322" y="660" width="1" height="18" fill="#c0c0c0"/><rect x="330" y="660" width="1" height="15" fill="#c0c0c0"/><rect x="338" y="660" width="1" height="12" fill="#c0c0c0"/><rect x="346" y="660" width="1" height="14" fill="#c0c0c0"/><rect x="354" y="660" width="1" height="11" fill="#c0c0c0"/><rect x="362" y="660" width="1" height="10" fill="#c0c0c0"/><rect x="370" y="660" width="1" height="10" fill="#c0c0c0"/><rect x="378" y="660" width="1" height="9" fill="#c0c0c0"/><rect x="386" y="660" width="1" height="10" fill="#c0c0c0"/><rect x="394" y="660" width="1" height="14" fill="#c0c0c0"/><rect x="402" y="660" width="1" height="19" fill="#c0c0c0"/><rect x="410" y="660" width="1" height="24" fill="#c0c0c0"/><rect x="418" y="660" width="1" height="25" fill="#c0c0c0"/><rect x="426" y="660" width="1" height="25" fill="#c0c0c0"/><rect x="434" y="660" width="1" height="27" fill="#c0c0c0"/><rect x="442" y="660" width="1" height="31" fill="#c0c0c0"/><rect x="450" y="660" width="1" height="32" fill="#c0c0c0"/><rect x="458" y="660" width="1" height="35" fill="#c0c0c0"/><rect x="466" y="660" width="1" height="39" fill="#c0c0c0"/><rect x="474" y="660" width="1" height="38" fill="#c0c0c0"/><rect x="482" y="660" width="1" height="36" fill="#c0c0c0"/><rect x="490" y="660" width="1" height="38" fill="#c0c0c0"/><rect x="498" y="660" width="1" height="41" fill="#c0c0c0"/><rect x="506" y="660" width="1" height="45" fill="#c0c0c0"/><rect x="514" y="660" width="1" height="50" fill="#c0c0c0"/><rect x="522" y="660" width="1" height="54" fill="#c0c0c0"/><rect x="530" y="660" width="1" height="57" fill="#c0c0c0"/><rect x="538" y="660" width="1" height="52" fill="#c0c0c0"/><rect x="546" y="660" width="1" height="51" fill="#c0c0c0"/><rect x="554" y="660" width="1" height="51" fill="#c0c0c0"/><rect x="562" y="660" width="1" height="49" fill="#c0c0c0"/><rect x="570" y="660" width="1" height="48" fill="#c0c0c0"/><rect x="578" y="660" width="1" height="46" fill="#c0c0c0"/><rect x="586" y="660" width="1" height="44" fill="#c0c0c0"/><rect x="594" y="660" width="1" height="45" fill="#c0c0c0"/><rect x="602" y="660" width="1" height="50" fill="#c0c0c0"/><rect x="610" y="660" width="1" height="55" fill="#c0c0c0"/><rect x="618" y="660" width="1" height="69" fill="#c0c0c0"/><rect x="626" y="660" width="1" height="80" fill="#c0c0c0"/><rect x="634" y="660" width="1" height="86" fill="#c0c0c0"/><rect x="642" y="660" width="1" height="89" fill="#c0c0c0"/><rect x="650" y="660" width="1" height="84" fill="#c0c0c0"/><rect x="658" y="660" width="1" height="77" fill="#c0c0c0"/><rect x="666" y="660" width="1" height="70" fill="#c0c0c0"/><rect x="674" y="660" width="1" height="65" fill="#c0c0c0"/><rect x="682" y="660" width="1" height="61" fill="#c0c0c0"/><rect x="690" y="660" width="1" height="47" fill="#c0c0c0"/><rect x="698" y="660" width="1" height="30" fill="#c0c0c0"/><rect x="706" y="660" width="1" height="16" fill="#c0c0c0"/><rect x="714" y="660" width="1" height="12" fill="#c0c0c0"/><rect x="722" y="660" width="1" height="11" fill="#c0c0c0"/><rect x="730" y="660" width="1" height="6" fill="#c0c0c0"/><rect x="738" y="660" width="1" height="3" fill="#c0c0c0"/><rect x="746" y="657" width="1" height="4" fill="#c0c0c0"/><rect x="754" y="656" width="1" height="5" fill="#c0c0c0"/><rect x="762" y="650" width="1" height="11" fill="#c0c0c0"/><rect x="770" y="646" width="1" height="15" fill="#c0c0c0"/><rect x="778" y="641" width="1" height="20" fill="#c0c0c0"/><rect x="786" y="644" width="1" height="17" fill="#c0c0c0"/><rect x="794" y="649" width="1" height="12" fill="#c0c0c0"/><rect x="802" y="656" width="1" height="5" fill="#c0c0c0"/><rect x="810" y="658" width="1" height="3" fill="#c0c0c0"/><rect x="818" y="660" width="1" height="2" fill="#c0c0c0"/><rect x="826" y="660" width="1" height="5" fill="#c0c0c0"/><rect x="834" y="660" width="1" height="5" fill="#c0c0c0"/><rect x="842" y="660" width="1" height="1" fill="#c0c0c0"/><rect x="850" y="655" width="1" height="6" fill="#c0c0c0"/><rect x="858" y="651" width="1" height="10" fill="#c0c0c0"/><rect x="866" y="647" width="1" height="14" fill="#c0c0c0"/><rect x="874" y="645" width="1" height="16" fill="#c0c0c0"/><rect x="882" y="644" width="1" height="17" fill="#c0c0c0"/><rect x="890" y="645" width="1" height="16" fill="#c0c0c0"/><rect x="898" y="645" width="1" height="16" fill="#c0c0c0"/><rect x="906" y="644" width="1" height="17" fill="#c0c0c0"/><rect x="914" y="649" width="1" height="12" fill="#c0c0c0"/><rect x="922" y="650" width="1" height="11" fill="#c0c0c0"/><rect x="930" y="654" width="1" height="7" fill="#c0c0c0"/><rect x="938" y="660" width="1" height="2" fill="#c0c0c0"/><rect x="946" y="660" width="1" height="6" fill="#c0c0c0"/><rect x="954" y="660" width="1" height="6" fill="#c0c0c0"/><rect x="962" y="660" width="1" height="10" fill="#c0c0c0"/><rect x="970" y="660" width="1" height="14" fill="#c0c0c0"/><rect x="978" y="660" width="1" height="18" fill="#c0c0c0"/><rect x="986" y="660" width="1" height="20" fill="#c0c0c0"/><rect x="994" y="660" width="1" height="22" fill="#c0c0c0"/><rect x="1002" y="660" width="1" height="27" fill="#c0c0c0"/><rect x="1010" y="660" width="1" height="33" fill="#c0c0c0"/><rect x="1018" y="660" width="1" height="37" fill="#c0c0c0"/><rect x="1026" y="660" width="1" height="45" fill="#c0c0c0"/><rect x="1034" y="660" width="1" height="43" fill="#c0c0c0"/><rect x="1042" y="660" width="1" height="43" fill="#c0c0c0"/><rect x="1050" y="660" width="1" height="39" fill="#c0c0c0"/><rect x="1058" y="660" width="1" height="41" fill="#c0c0c0"/><rect x="1066" y="660" width="1" height="43" fill="#c0c0c0"/><rect x="1074" y="660" width="1" height="38" fill="#c0c0c0"/><rect x="1082" y="660" width="1" height="33" fill="#c0c0c0"/><rect x="1090" y="660" width="1" height="25" fill="#c0c0c0"/><rect x="1098" y="660" width="1" height="18" fill="#c0c0c0"/><rect x="1106" y="660" width="1" height="14" fill="#c0c0c0"/><rect x="1114" y="660" width="1" height="10" fill="#c0c0c0"/><rect x="1122" y="660" width="1" height="8" fill="#c0c0c0"/><rect x="1130" y="660" width="1" height="10" fill="#c0c0c0"/><rect x="1138" y="660" width="1" height="11" fill="#c0c0c0"/><rect x="1146" y="660" width="1" height="9" fill="#c0c0c0"/><rect x="1154" y="660" width="1" height="6" fill="#c0c0c0"/><rect x="1162" y="660" width="1" height="6" fill="#c0c0c0"/><rect x="1170" y="660" width="1" height="4" fill="#c0c0c0"/><rect x="1178" y="656" width="1" height="5" fill="#c0c0c0"/><rect x="1186" y="653" width="1" height="8" fill="#c0c0c0"/><rect x="1194" y="655" width="1" height="6" fill="#c0c0c0"/><rect x="1202" y="659" width="1" height="2" fill="#c0c0c0"/><rect x="1210" y="659" width="1" height="2" fill="#c0c0c0"/><rect x="1218" y="660" width="1" height="1" fill="#c0c0c0"/><rect x="1226" y="659" width="1" height="2" fill="#c0c0c0"/><rect x="1234" y="660" width="1" height="1" fill="#c0c0c0"/><rect x="1242" y="659" width="1" height="2" fill="#c0c0c0"/><rect x="1250" y="660" width="1" height="4" fill="#c0c0c0"/><rect x="1258" y="660" width="1" height="7" fill="#c0c0c0"/><rect x="1266" y="660" width="1" height="10" fill="#c0c0c0"/><rect x="1274" y="660" width="1" height="14" fill="#c0c0c0"/><rect x="1282" y="660" width="1" height="16" fill="#c0c0c0"/><rect x="1290" y="660" width="1" height="12" fill="#c0c0c0"/><rect x="1298" y="660" width="1" height="5" fill="#c0c0c0"/><rect x="1306" y="659" width="1" height="2" fill="#c0c0c0"/><rect x="1314" y="655" width="1" height="6" fill="#c0c0c0"/><rect x="1322" y="648" width="1" height="13" fill="#c0c0c0"/><rect x="1330" y="640" width="1" height="21" fill="#c0c0c0"/><rect x="1338" y="634" width="1" height="27" fill="#c0c0c0"/><rect x="1346" y="627" width="1" height="34" fill="#c0c0c0"/><rect x="1354" y="622" width="1" height="39" fill="#c0c0c0"/><rect x="1362" y="620" width="1" height="41" fill="#c0c0c0"/><rect x="1370" y="617" width="1" height="44" fill="#c0c0c0"/><rect x="1378" y="618" width="1" height="43" fill="#c0c0c0"/><rect x="1386" y="616" width="1" height="45" fill="#c0c0c0"/><rect x="1394" y="610" width="1" height="51" fill="#c0c0c0"/><rect x="1402" y="608" width="1" height="53" fill="#c0c0c0"/><rect x="1410" y="607" width="1" height="54" fill="#c0c0c0"/>
<polyline points="2.0,652.6 10.0,655.0 18.0,657.0 26.0,658.3 34.0,659.0 42.0,659.5 50.0,659.6 58.0,659.0 66.0,658.0 74.0,656.5 82.0,654.0 90.0,651.5 98.0,648.0 106.0,644.5 114.0,641.0 122.0,638.0 130.0,635.0 138.0,632.8 146.0,632.0 154.0,632.3 162.0,633.5 170.0,636.0 178.0,639.5 186.0,640.5 194.0,644.4 202.0,649.3 210.0,655.0 218.0,660.8 226.0,666.0 234.0,670.6 242.0,675.1 250.0,679.7 258.0,684.0 266.0,688.4 274.0,691.8 282.0,694.6 290.0,696.1 298.0,696.5 306.0,696.2 314.0,694.8 322.0,692.4 330.0,689.3 338.0,685.9 346.0,682.7 354.0,679.2 362.0,676.3 370.0,674.1 378.0,672.4 386.0,671.1 394.0,670.7 402.0,671.2 410.0,672.4 418.0,673.6 426.0,675.2 434.0,677.1 442.0,679.4 450.0,681.9 458.0,684.8 466.0,687.6 474.0,689.7 482.0,691.0 490.0,692.5 498.0,694.2 506.0,696.1 514.0,698.2 522.0,700.7 530.0,703.1 538.0,704.6 546.0,706.0 554.0,707.7 562.0,709.0 570.0,709.8 578.0,709.9 586.0,709.3 594.0,708.3 602.0,707.5 610.0,707.7 618.0,709.7 626.0,712.9 634.0,717.0 642.0,721.6 650.0,725.8 658.0,729.5 666.0,732.2 674.0,733.9 682.0,734.5 690.0,732.1 698.0,726.6 706.0,718.8 714.0,710.3 722.0,702.1 730.0,694.3 738.0,687.0 746.0,679.5 754.0,672.4 762.0,666.2 770.0,661.4 778.0,657.6 786.0,654.6 794.0,652.3 802.0,651.2 810.0,650.7 818.0,651.1 826.0,652.1 834.0,653.6 842.0,655.2 850.0,656.6 858.0,657.4 866.0,657.3 874.0,656.1 882.0,654.6 890.0,652.9 898.0,650.7 906.0,648.5 914.0,647.3 922.0,646.9 930.0,647.2 938.0,648.7 946.0,650.9 954.0,653.2 962.0,655.7 970.0,658.8 978.0,662.5 986.0,665.8 994.0,669.2 1002.0,672.7 1010.0,676.2 1018.0,679.7 1026.0,684.0 1034.0,687.7 1042.0,690.9 1050.0,693.3 1058.0,695.6 1066.0,697.9 1074.0,699.2 1082.0,699.2 1090.0,697.8 1098.0,694.9 1106.0,691.7 1114.0,688.1 1122.0,684.6 1130.0,681.1 1138.0,677.6 1146.0,674.4 1154.0,671.4 1162.0,669.3 1170.0,667.8 1178.0,665.9 1186.0,664.1 1194.0,662.8 1202.0,661.7 1210.0,660.4 1218.0,659.4 1226.0,658.8 1234.0,658.2 1242.0,657.8 1250.0,658.5 1258.0,660.0 1266.0,661.6 1274.0,663.2 1282.0,665.0 1290.0,666.3 1298.0,666.7 1306.0,666.6 1314.0,666.0 1322.0,664.3 1330.0,661.4 1338.0,657.4 1346.0,652.3 1354.0,646.4 1362.0,640.8 1370.0,635.6 1378.0,631.0 1386.0,626.8 1394.0,622.6 1402.0,619.1 1410.0,616.2" fill="none" stroke="#ff0000" stroke-width="1" shape-rendering="crispEdges" stroke-dasharray="3 3"/>
<text x="0" y="612" font-size="10" fill="#000" textLength="126.0" lengthAdjust="spacingAndGlyphs" >MACD(12,26,9) 281.30 232.96</text>
<line x1="1" y1="793.5" x2="1653" y2="793.5" stroke="#c0c0c0" stroke-width="1" stroke-dasharray="3 3"/>
<line x1="1" y1="844.5" x2="1653" y2="844.5" stroke="#c0c0c0" stroke-width="1" stroke-dasharray="3 3"/>
<line x1="1" y1="905.5" x2="1653" y2="905.5" stroke="#c0c0c0" stroke-width="1" stroke-dasharray="3 3"/>
<polyline points="2.0,843.7 10.0,837.5 18.0,843.7 26.0,846.2 34.0,848.1 42.0,846.2 50.0,840.0 58.0,833.0 66.0,823.2 74.0,822.2 82.0,823.2 90.0,818.3 98.0,811.6 106.0,817.3 114.0,814.5 122.0,819.0 130.0,816.0 138.0,819.0 146.0,828.9 154.0,857.9 162.0,862.5 170.0,864.9 178.0,864.9 186.0,865.6 194.0,846.1 202.0,872.2 210.0,872.9 218.0,869.5 226.0,868.6 234.0,869.3 242.0,880.3 250.0,884.1 258.0,877.0 266.0,867.1 274.0,868.9 282.0,871.7 290.0,844.8 298.0,840.9 306.0,844.6 314.0,846.0 322.0,845.3 330.0,842.6 338.0,844.4 346.0,857.3 354.0,843.4 362.0,846.2 370.0,850.9 378.0,846.9 386.0,852.6 394.0,864.6 402.0,870.0 410.0,871.5 418.0,861.0 426.0,862.0 434.0,865.5 442.0,873.1 450.0,867.4 458.0,874.1 466.0,878.3 474.0,863.1 482.0,854.9 490.0,867.8 498.0,871.6 506.0,875.9 514.0,880.5 522.0,882.5 530.0,882.3 538.0,856.5 546.0,863.7 554.0,867.4 562.0,862.5 570.0,863.7 578.0,862.6 586.0,863.9 594.0,870.5 602.0,880.4 610.0,883.0 618.0,897.4 626.0,897.8 634.0,892.7 642.0,887.9 650.0,866.6 658.0,858.7 666.0,857.1 674.0,860.8 682.0,861.6 690.0,834.8 698.0,826.7 706.0,824.6 714.0,842.2 722.0,846.0 730.0,839.7 738.0,840.7 746.0,834.5 754.0,841.8 762.0,831.7 770.0,834.1 778.0,830.4 786.0,844.4 794.0,849.9 802.0,855.4 810.0,849.3 818.0,849.6 826.0,853.9 834.0,844.8 842.0,838.5 850.0,833.3 858.0,835.2 866.0,832.8 874.0,834.3 882.0,836.7 890.0,841.1 898.0,836.7 906.0,835.1 914.0,852.7 922.0,843.8 930.0,851.1 938.0,859.1 946.0,855.1 954.0,846.5 962.0,855.9 970.0,858.1 978.0,860.8 986.0,857.8 994.0,859.6 1002.0,866.7 1010.0,873.0 1018.0,870.5 1026.0,878.7 1034.0,856.0 1042.0,860.1 1050.0,852.7 1058.0,862.2 1066.0,863.2 1074.0,850.0 1082.0,846.6 1090.0,838.6 1098.0,838.5 1106.0,840.3 1114.0,840.7 1122.0,842.7 1130.0,853.0 1138.0,853.8 1146.0,844.0 1154.0,840.6 1162.0,847.6 1170.0,841.8 1178.0,828.0 1186.0,834.9 1194.0,847.1 1202.0,852.6 1210.0,844.7 1218.0,847.1 1226.0,844.3 1234.0,846.9 1242.0,843.2 1250.0,853.9 1258.0,856.6 1266.0,855.5 1274.0,862.0 1282.0,855.4 1290.0,840.9 1298.0,830.7 1306.0,833.5 1314.0,833.0 1322.0,824.1 1330.0,818.4 1338.0,818.9 1346.0,814.8 1354.0,813.5 1362.0,820.7 1370.0,817.3 1378.0,825.6 1386.0,821.0 1394.0,809.5 1402.0,817.9 1410.0,818.0" fill="none" stroke="#1e90ff" stroke-width="1" shape-rendering="crispEdges" />
<text x="0" y="770" font-size="10" fill="#000" textLength="66.0" lengthAdjust="spacingAndGlyphs" >RSI(14) 65.7809</text>
<line x1="1277" y1="500" x2="1416.6" y2="249.6" stroke="#ff0000" stroke-width="3.4" shape-rendering="auto"/>
<polygon points="1422,240 1421.0,252.0 1412.3,247.2" fill="#ff0000" shape-rendering="auto"/>
<line x1="1297" y1="661.5" x2="1403.1" y2="608.9" stroke="#ff0000" stroke-width="3.4" shape-rendering="auto"/>
<polygon points="1413,604 1405.4,613.4 1400.9,604.4" fill="#ff0000" shape-rendering="auto"/>
<line x1="1283.5" y1="833.5" x2="1407.1" y2="814.2" stroke="#ff0000" stroke-width="3.4" shape-rendering="auto"/>
<polygon points="1418,812.5 1407.9,819.1 1406.4,809.3" fill="#ff0000" shape-rendering="auto"/>
<rect x="1654" y="33" width="3" height="1" fill="#000"/>
<text x="1659" y="37" font-size="10" fill="#000" textLength="33.0" lengthAdjust="spacingAndGlyphs" >35918.5</text>
<rect x="1654" y="66" width="3" height="1" fill="#000"/>
<text x="1659" y="70" font-size="10" fill="#000" textLength="33.0" lengthAdjust="spacingAndGlyphs" >35691.0</text>
<rect x="1654" y="99" width="3" height="1" fill="#000"/>
<text x="1659" y="103" font-size="10" fill="#000" textLength="33.0" lengthAdjust="spacingAndGlyphs" >35463.5</text>
<rect x="1654" y="132" width="3" height="1" fill="#000"/>
<text x="1659" y="136" font-size="10" fill="#000" textLength="33.0" lengthAdjust="spacingAndGlyphs" >35242.5</text>
<rect x="1654" y="165" width="3" height="1" fill="#000"/>
<text x="1659" y="169" font-size="10" fill="#000" textLength="33.0" lengthAdjust="spacingAndGlyphs" >35015.0</text>
<rect x="1654" y="198" width="3" height="1" fill="#000"/>
<text x="1659" y="202" font-size="10" fill="#000" textLength="33.0" lengthAdjust="spacingAndGlyphs" >34794.0</text>
<rect x="1654" y="231" width="3" height="1" fill="#000"/>
<text x="1659" y="235" font-size="10" fill="#000" textLength="33.0" lengthAdjust="spacingAndGlyphs" >34566.5</text>
<rect x="1654" y="264" width="3" height="1" fill="#000"/>
<text x="1659" y="268" font-size="10" fill="#000" textLength="33.0" lengthAdjust="spacingAndGlyphs" >34339.0</text>
<rect x="1654" y="297" width="3" height="1" fill="#000"/>
<text x="1659" y="301" font-size="10" fill="#000" textLength="33.0" lengthAdjust="spacingAndGlyphs" >34110.0</text>
<rect x="1654" y="330" width="3" height="1" fill="#000"/>
<text x="1659" y="334" font-size="10" fill="#000" textLength="33.0" lengthAdjust="spacingAndGlyphs" >33890.5</text>
<rect x="1654" y="363" width="3" height="1" fill="#000"/>
<text x="1659" y="367" font-size="10" fill="#000" textLength="33.0" lengthAdjust="spacingAndGlyphs" >33665.5</text>
<rect x="1654" y="396" width="3" height="1" fill="#000"/>
<text x="1659" y="400" font-size="10" fill="#000" textLength="33.0" lengthAdjust="spacingAndGlyphs" >33442.0</text>
<rect x="1654" y="429" width="3" height="1" fill="#000"/>
<text x="1659" y="433" font-size="10" fill="#000" textLength="33.0" lengthAdjust="spacingAndGlyphs" >33221.0</text>
<rect x="1654" y="462" width="3" height="1" fill="#000"/>
<text x="1659" y="466" font-size="10" fill="#000" textLength="33.0" lengthAdjust="spacingAndGlyphs" >32993.5</text>
<rect x="1654" y="495" width="3" height="1" fill="#000"/>
<text x="1659" y="499" font-size="10" fill="#000" textLength="33.0" lengthAdjust="spacingAndGlyphs" >32766.0</text>
<rect x="1654" y="528" width="3" height="1" fill="#000"/>
<text x="1659" y="532" font-size="10" fill="#000" textLength="33.0" lengthAdjust="spacingAndGlyphs" >32545.0</text>
<rect x="1654" y="561" width="3" height="1" fill="#000"/>
<text x="1659" y="565" font-size="10" fill="#000" textLength="33.0" lengthAdjust="spacingAndGlyphs" >32317.5</text>
<rect x="1654" y="594" width="3" height="1" fill="#000"/>
<text x="1659" y="598" font-size="10" fill="#000" textLength="33.0" lengthAdjust="spacingAndGlyphs" >32096.5</text>
<rect x="1654" y="600" width="2" height="1" fill="#000"/>
<rect x="1654" y="660" width="2" height="1" fill="#000"/>
<rect x="1654" y="754" width="2" height="1" fill="#000"/>
<text x="1657" y="611" font-size="10" fill="#000" textLength="28.0" lengthAdjust="spacingAndGlyphs" >318.59</text>
<text x="1657" y="664" font-size="10" fill="#000" textLength="19.0" lengthAdjust="spacingAndGlyphs" >0.00</text>
<text x="1656" y="751" font-size="10" fill="#000" textLength="32.0" lengthAdjust="spacingAndGlyphs" >-501.83</text>
<rect x="1654" y="758" width="2" height="1" fill="#000"/>
<text x="1657" y="768" font-size="10" fill="#000" textLength="15.0" lengthAdjust="spacingAndGlyphs" >100</text>
<rect x="1654" y="793" width="2" height="1" fill="#000"/>
<text x="1657" y="797" font-size="10" fill="#000" textLength="10.0" lengthAdjust="spacingAndGlyphs" >80</text>
<rect x="1654" y="845" width="2" height="1" fill="#000"/>
<text x="1657" y="848" font-size="10" fill="#000" textLength="10.0" lengthAdjust="spacingAndGlyphs" >50</text>
<rect x="1654" y="905" width="2" height="1" fill="#000"/>
<text x="1657" y="909" font-size="10" fill="#000" textLength="10.0" lengthAdjust="spacingAndGlyphs" >15</text>
<rect x="1654" y="931" width="2" height="1" fill="#000"/>
<text x="1657" y="928" font-size="10" fill="#000" textLength="5.0" lengthAdjust="spacingAndGlyphs" >0</text>
<rect x="1655" y="207" width="41" height="11" fill="#ff0000"/>
<text x="1659" y="217" font-size="10" fill="#fff" textLength="33.0" lengthAdjust="spacingAndGlyphs" >34688.3</text>
<rect x="1655" y="244" width="41" height="11" fill="#ff0000"/>
<text x="1659" y="254" font-size="10" fill="#fff" textLength="33.0" lengthAdjust="spacingAndGlyphs" >34436.7</text>
<rect x="1655" y="274" width="41" height="11" fill="#000000"/>
<text x="1659" y="284" font-size="10" fill="#fff" textLength="33.0" lengthAdjust="spacingAndGlyphs" >34230.5</text>
<rect x="1655" y="287" width="41" height="11" fill="#32cd32"/>
<text x="1659" y="297" font-size="10" fill="#fff" textLength="33.0" lengthAdjust="spacingAndGlyphs" >34144.3</text>
<rect x="1655" y="318" width="41" height="11" fill="#0000ff"/>
<text x="1659" y="328" font-size="10" fill="#fff" textLength="33.0" lengthAdjust="spacingAndGlyphs" >33933.5</text>
<rect x="1655" y="353" width="41" height="11" fill="#0000ff"/>
<text x="1659" y="363" font-size="10" fill="#fff" textLength="33.0" lengthAdjust="spacingAndGlyphs" >33695.5</text>
<text x="2" y="944" font-size="10" fill="#000" textLength="39.0" lengthAdjust="spacingAndGlyphs" >Feb 2022</text>
<rect x="58" y="932" width="1" height="3" fill="#000"/>
<text x="57" y="944" font-size="10" fill="#000" textLength="50.0" lengthAdjust="spacingAndGlyphs" >8 Feb 16:00</text>
<rect x="122" y="932" width="1" height="3" fill="#000"/>
<text x="121" y="944" font-size="10" fill="#000" textLength="54.5" lengthAdjust="spacingAndGlyphs" >10 Feb 00:00</text>
<rect x="186" y="932" width="1" height="3" fill="#000"/>
<text x="185" y="944" font-size="10" fill="#000" textLength="54.5" lengthAdjust="spacingAndGlyphs" >11 Feb 08:00</text>
<rect x="250" y="932" width="1" height="3" fill="#000"/>
<text x="249" y="944" font-size="10" fill="#000" textLength="54.5" lengthAdjust="spacingAndGlyphs" >14 Feb 12:00</text>
<rect x="314" y="932" width="1" height="3" fill="#000"/>
<text x="313" y="944" font-size="10" fill="#000" textLength="54.5" lengthAdjust="spacingAndGlyphs" >15 Feb 20:00</text>
<rect x="378" y="932" width="1" height="3" fill="#000"/>
<text x="377" y="944" font-size="10" fill="#000" textLength="54.5" lengthAdjust="spacingAndGlyphs" >17 Feb 04:00</text>
<rect x="442" y="932" width="1" height="3" fill="#000"/>
<text x="441" y="944" font-size="10" fill="#000" textLength="54.5" lengthAdjust="spacingAndGlyphs" >18 Feb 12:00</text>
<rect x="506" y="932" width="1" height="3" fill="#000"/>
<text x="505" y="944" font-size="10" fill="#000" textLength="54.5" lengthAdjust="spacingAndGlyphs" >21 Feb 16:00</text>
<rect x="570" y="932" width="1" height="3" fill="#000"/>
<text x="569" y="944" font-size="10" fill="#000" textLength="54.5" lengthAdjust="spacingAndGlyphs" >23 Feb 00:00</text>
<rect x="634" y="932" width="1" height="3" fill="#000"/>
<text x="633" y="944" font-size="10" fill="#000" textLength="54.5" lengthAdjust="spacingAndGlyphs" >24 Feb 08:00</text>
<rect x="698" y="932" width="1" height="3" fill="#000"/>
<text x="697" y="944" font-size="10" fill="#000" textLength="54.5" lengthAdjust="spacingAndGlyphs" >25 Feb 16:00</text>
<rect x="762" y="932" width="1" height="3" fill="#000"/>
<text x="761" y="944" font-size="10" fill="#000" textLength="54.5" lengthAdjust="spacingAndGlyphs" >28 Feb 20:00</text>
<rect x="826" y="932" width="1" height="3" fill="#000"/>
<text x="825" y="944" font-size="10" fill="#000" textLength="50.0" lengthAdjust="spacingAndGlyphs" >2 Mar 04:00</text>
<rect x="890" y="932" width="1" height="3" fill="#000"/>
<text x="889" y="944" font-size="10" fill="#000" textLength="50.0" lengthAdjust="spacingAndGlyphs" >3 Mar 12:00</text>
<rect x="954" y="932" width="1" height="3" fill="#000"/>
<text x="953" y="944" font-size="10" fill="#000" textLength="50.0" lengthAdjust="spacingAndGlyphs" >4 Mar 20:00</text>
<rect x="1018" y="932" width="1" height="3" fill="#000"/>
<text x="1017" y="944" font-size="10" fill="#000" textLength="50.0" lengthAdjust="spacingAndGlyphs" >8 Mar 00:00</text>
<rect x="1082" y="932" width="1" height="3" fill="#000"/>
<text x="1081" y="944" font-size="10" fill="#000" textLength="50.0" lengthAdjust="spacingAndGlyphs" >9 Mar 08:00</text>
<rect x="1146" y="932" width="1" height="3" fill="#000"/>
<text x="1145" y="944" font-size="10" fill="#000" textLength="54.5" lengthAdjust="spacingAndGlyphs" >10 Mar 16:00</text>
<rect x="1210" y="932" width="1" height="3" fill="#000"/>
<text x="1209" y="944" font-size="10" fill="#000" textLength="54.5" lengthAdjust="spacingAndGlyphs" >13 Mar 23:00</text>
<rect x="1274" y="932" width="1" height="3" fill="#000"/>
<text x="1273" y="944" font-size="10" fill="#000" textLength="54.5" lengthAdjust="spacingAndGlyphs" >15 Mar 04:00</text>
<rect x="1338" y="932" width="1" height="3" fill="#000"/>
<text x="1337" y="944" font-size="10" fill="#000" textLength="54.5" lengthAdjust="spacingAndGlyphs" >16 Mar 12:00</text>
<rect x="1402" y="932" width="1" height="3" fill="#000"/>
<text x="1401" y="944" font-size="10" fill="#000" textLength="54.5" lengthAdjust="spacingAndGlyphs" >17 Mar 20:00</text>
<rect x="0" y="0" width="1700" height="26" fill="#f0f0f0"/><rect x="0" y="0" width="1700" height="1" fill="#fbfbfb"/><rect x="0" y="26" width="1700" height="1" fill="#a0a0a0"/><rect x="0" y="27" width="1700" height="1" fill="#6d6d6d"/><circle cx="0.5" cy="12" r="5" fill="#dbe8f5" stroke="#6a8fb8" stroke-width="1.2" shape-rendering="auto"/><path d="M3,17 L6,22" stroke="#c9a227" stroke-width="2.2" fill="none" shape-rendering="auto" /><rect x="14" y="2" width="1" height="22" fill="#a0a0a0"/><rect x="15" y="2" width="1" height="22" fill="#ffffff"/><path d="M24.5,6.5 h8 l3,3 v10 h-11 z" fill="#fafafa" stroke="#555" stroke-width="1" shape-rendering="auto"/><rect x="26" y="9" width="2" height="1" fill="#777"/><rect x="26" y="12" width="6" height="1" fill="#999"/><rect x="26" y="14" width="4" height="1" fill="#999"/><path d="M31.5,11.5 h4 v4 h4 v4 h-4 v4 h-4 v-4 h-4 v-4 h4 z" fill="#3ec83e" stroke="#1a8a1a" stroke-width="1" shape-rendering="auto"/><rect x="46" y="7" width="1" height="1" fill="#000"/><rect x="43" y="8" width="7" height="1" fill="#000"/><path d="M44.5,9.5 l1,1 M48.5,9.5 l-1,1" stroke="#000" stroke-width="1" fill="none" shape-rendering="crispEdges"/><rect x="43" y="11" width="7" height="1" fill="#000"/><rect x="43" y="13" width="7" height="1" fill="#000"/><rect x="46" y="11" width="1" height="7" fill="#000"/><path d="M46,14.5 l-3,3 M47,14.5 l2.5,2.5" stroke="#000" stroke-width="1" fill="none" shape-rendering="crispEdges"/><path d="M54,7.5 l-3,1.2" stroke="#000" stroke-width="1" fill="none" shape-rendering="crispEdges"/><rect x="50" y="9" width="1" height="8" fill="#000"/><path d="M50.5,16.5 l-1,1.5" stroke="#000" stroke-width="1" fill="none" shape-rendering="crispEdges"/><rect x="50" y="11" width="6" height="1" fill="#000"/><rect x="53" y="11" width="1" height="7" fill="#000"/><path d="M56.5,7.5 l1.2,1.5" stroke="#000" stroke-width="1" fill="none" shape-rendering="crispEdges"/><rect x="56" y="11" width="2" height="1" fill="#000"/><rect x="57" y="11" width="1" height="5" fill="#000"/><path d="M57.5,15.5 l2,-1.5" stroke="#000" stroke-width="1" fill="none" shape-rendering="crispEdges"/><rect x="59" y="8" width="8" height="1" fill="#000"/><rect x="63" y="8" width="1" height="10" fill="#000"/><rect x="61" y="17" width="3" height="1" fill="#000"/><path d="M70,7 l1,1.3 M75.5,7 l-1,1.3" stroke="#000" stroke-width="1" fill="none" shape-rendering="crispEdges"/><rect x="68" y="9" width="10" height="1" fill="#000"/><rect x="68" y="11" width="10" height="1" fill="#000"/><rect x="68" y="13" width="10" height="1" fill="#000"/><rect x="68" y="9" width="1" height="5" fill="#000"/><rect x="77" y="9" width="1" height="5" fill="#000"/><rect x="72" y="9" width="1" height="10" fill="#000"/><rect x="67" y="15" width="12" height="1" fill="#000"/><path d="M92,14.5 L97,7 L106.5,12.5 L101,21 Z" fill="#e3b22a" stroke="#a06a10" stroke-width="1" shape-rendering="auto"/><path d="M96,9 L104.5,13.5 L100,19.5 L93.5,15 Z" fill="#f2d050" shape-rendering="auto"/><path d="M93,17 L100.5,22 L107,13.5" fill="none" stroke="#b07a18" stroke-width="1.3" shape-rendering="auto"/><rect x="121" y="6" width="10" height="10" fill="#4ea7e8" stroke="#2a6fb8" stroke-width="1" shape-rendering="auto"/><rect x="125" y="9" width="5" height="1" fill="#fff"/><rect x="125" y="12" width="4" height="1" fill="#fff"/><path d="M120.5,21.5 q-1.5,-3.5 2.5,-4 q1,-3.5 5,-2.5 q2.5,-2.5 5,0.5 q3,0 2.5,3 q1.5,1 0,3 z" fill="#eef3f8" stroke="#7b8ea8" stroke-width="1" shape-rendering="auto"/><path d="M155,6.5 a7.5,7.5 0 0,0 0,15" fill="none" stroke="#7d9fd8" stroke-width="1" shape-rendering="auto"/><path d="M155,6.5 a7.5,7.5 0 0,1 0,15" fill="none" stroke="#8dc08d" stroke-width="1.2" shape-rendering="auto"/><path d="M155,9 a5,5 0 0,0 0,10" fill="none" stroke="#4a78c8" stroke-width="1" shape-rendering="auto"/><path d="M155,9 a5,5 0 0,1 0,10" fill="none" stroke="#5aa05a" stroke-width="1" shape-rendering="auto"/><circle cx="155" cy="13.5" r="1.6" fill="#2a5fb0" shape-rendering="auto"/><rect x="155" y="14" width="1.2" height="8" fill="#22a022"/><path d="M175,12.5 L188,12.5 L182,21.5 Z" fill="#f1d25a" stroke="#c0a030" stroke-width="1" shape-rendering="auto"/><ellipse cx="181" cy="10.5" rx="7" ry="3.2" fill="#63b6ea" stroke="#3a82c0" stroke-width="1" shape-rendering="auto"/><ellipse cx="181" cy="8.5" rx="3.2" ry="2.5" fill="#7ac8f2" stroke="#3a82c0" stroke-width="0.8" shape-rendering="auto"/><circle cx="186.5" cy="18" r="4.2" fill="#d9261c" shape-rendering="auto"/><rect x="185" y="16.5" width="3" height="3" fill="#fff"/><rect x="200" y="7" width="1" height="2" fill="#000"/><rect x="197" y="9" width="9" height="1" fill="#000"/><rect x="197" y="9" width="1" height="9" fill="#000"/><rect x="205" y="9" width="1" height="9" fill="#000"/><rect x="197" y="11" width="9" height="1" fill="#000"/><rect x="197" y="14" width="9" height="1" fill="#000"/><rect x="197" y="17" width="9" height="1" fill="#000"/><rect x="208" y="8" width="4" height="1" fill="#000"/><rect x="207" y="11" width="6" height="1" fill="#000"/><path d="M209.5,11.5 l-2,5" stroke="#000" stroke-width="1" fill="none" shape-rendering="crispEdges"/><rect x="207" y="17" width="6" height="1" fill="#000"/><path d="M211,14.5 l1.2,2.5" stroke="#000" stroke-width="1" fill="none" shape-rendering="crispEdges"/><rect x="212" y="10" width="7" height="1" fill="#000"/><rect x="218" y="10" width="1" height="8" fill="#000"/><rect x="216" y="18" width="3" height="1" fill="#000"/><rect x="215" y="7" width="1" height="6" fill="#000"/><path d="M215,12.5 l-2.5,5.5" stroke="#000" stroke-width="1" fill="none" shape-rendering="crispEdges"/><rect x="224" y="7" width="1" height="2" fill="#000"/><rect x="219" y="9" width="12" height="1" fill="#000"/><path d="M222,10.5 l-2,2 M227,10.5 l2,2 M221,12.5 l8.5,5.5 M229,12.5 l-8.5,5.5" stroke="#000" stroke-width="1" fill="none" shape-rendering="crispEdges"/><rect x="233" y="7" width="9" height="1" fill="#000"/><rect x="233" y="9" width="9" height="1" fill="#000"/><rect x="233" y="12" width="9" height="1" fill="#000"/><rect x="233" y="7" width="1" height="6" fill="#000"/><rect x="241" y="7" width="1" height="6" fill="#000"/><rect x="232" y="13" width="11" height="1" fill="#000"/><rect x="242" y="13" width="1" height="5" fill="#000"/><rect x="240" y="18" width="3" height="1" fill="#000"/><path d="M235,14 l-3,3.5 M238,14 l-3.5,4 M241,14 l-3.5,4" stroke="#000" stroke-width="1" fill="none" shape-rendering="crispEdges"/><rect x="250" y="2" width="1" height="22" fill="#a0a0a0"/><rect x="251" y="2" width="1" height="22" fill="#ffffff"/><rect x="254" y="4" width="3" height="1" fill="#9a9a9a"/><rect x="254" y="6" width="3" height="1" fill="#9a9a9a"/><rect x="254" y="8" width="3" height="1" fill="#9a9a9a"/><rect x="254" y="10" width="3" height="1" fill="#9a9a9a"/><rect x="254" y="12" width="3" height="1" fill="#9a9a9a"/><rect x="254" y="14" width="3" height="1" fill="#9a9a9a"/><rect x="254" y="16" width="3" height="1" fill="#9a9a9a"/><rect x="254" y="18" width="3" height="1" fill="#9a9a9a"/><rect x="254" y="20" width="3" height="1" fill="#9a9a9a"/><rect x="254" y="22" width="3" height="1" fill="#9a9a9a"/><rect x="268" y="8" width="1" height="15" fill="#505050"/><rect x="266" y="20" width="15" height="1" fill="#505050"/><polygon points="268.5,6.5 266.5,9.5 270.5,9.5" fill="#505050"/><polygon points="282,20.5 279,18.5 279,22.5" fill="#505050"/><path d="M273.5,19 V11 M271.5,18.5 h2 M273.5,11.5 h2.5" stroke="#1c9a1c" stroke-width="1.2" fill="none" shape-rendering="auto" /><defs><pattern id="chk" width="2" height="2" patternUnits="userSpaceOnUse"><rect width="2" height="2" fill="#f4f4f4"/><rect width="1" height="1" fill="#ffffff"/><rect x="1" y="1" width="1" height="1" fill="#ffffff"/></pattern></defs><rect x="288" y="2" width="25" height="22" fill="url(#chk)"/><rect x="288" y="2" width="25" height="1" fill="#a0a0a0"/><rect x="288" y="2" width="1" height="22" fill="#a0a0a0"/><rect x="312" y="3" width="1" height="21" fill="#ffffff"/><rect x="288" y="23" width="25" height="1" fill="#ffffff"/><rect x="296" y="8" width="1" height="15" fill="#505050"/><rect x="294" y="20" width="15" height="1" fill="#505050"/><polygon points="296.5,6.5 294.5,9.5 298.5,9.5" fill="#505050"/><polygon points="310,20.5 307,18.5 307,22.5" fill="#505050"/><rect x="300" y="7" width="1" height="11" fill="#1a8a1a"/><rect x="298.5" y="9.5" width="4" height="6" fill="#3ecb3e" stroke="#1a8a1a" stroke-width="1"/><rect x="324" y="8" width="1" height="15" fill="#505050"/><rect x="322" y="20" width="15" height="1" fill="#505050"/><polygon points="324.5,6.5 322.5,9.5 326.5,9.5" fill="#505050"/><polygon points="338,20.5 335,18.5 335,22.5" fill="#505050"/><path d="M326,17 q4,-6 7,-5 q2,1 3,3" stroke="#2aa02a" stroke-width="1.2" fill="none" shape-rendering="auto" /><rect x="345" y="2" width="1" height="22" fill="#a0a0a0"/><rect x="346" y="2" width="1" height="22" fill="#ffffff"/><circle cx="360" cy="12" r="5" fill="#cfe3f7" stroke="#3f7fc5" stroke-width="1.5" shape-rendering="auto"/><path d="M363.5,15.5 L368,20.5" stroke="#c9a227" stroke-width="2.6" fill="none" shape-rendering="auto" /><rect x="357.5" y="11" width="5" height="2" fill="#3f7fc5"/><rect x="359" y="9.5" width="2" height="5" fill="#3f7fc5"/><circle cx="388" cy="12" r="5" fill="#cfe3f7" stroke="#3f7fc5" stroke-width="1.5" shape-rendering="auto"/><path d="M391.5,15.5 L396,20.5" stroke="#c9a227" stroke-width="2.6" fill="none" shape-rendering="auto" /><rect x="385.5" y="11" width="5" height="2" fill="#3f7fc5"/><rect x="410" y="6" width="7" height="7" fill="#3aa03a"/><rect x="411" y="9" width="5" height="2" fill="#fff"/><rect x="418" y="6" width="7" height="7" fill="#2a5fc8"/><rect x="419" y="9" width="5" height="2" fill="#fff"/><rect x="410" y="14" width="7" height="7" fill="#2a5fc8"/><rect x="411" y="17" width="5" height="2" fill="#fff"/><rect x="418" y="14" width="7" height="7" fill="#3aa03a"/><rect x="419" y="17" width="5" height="2" fill="#fff"/><rect x="435" y="2" width="1" height="22" fill="#a0a0a0"/><rect x="436" y="2" width="1" height="22" fill="#ffffff"/><defs><pattern id="chk" width="2" height="2" patternUnits="userSpaceOnUse"><rect width="2" height="2" fill="#f4f4f4"/><rect width="1" height="1" fill="#ffffff"/><rect x="1" y="1" width="1" height="1" fill="#ffffff"/></pattern></defs><rect x="440" y="2" width="25" height="22" fill="url(#chk)"/><rect x="440" y="2" width="25" height="1" fill="#a0a0a0"/><rect x="440" y="2" width="1" height="22" fill="#a0a0a0"/><rect x="464" y="3" width="1" height="21" fill="#ffffff"/><rect x="440" y="23" width="25" height="1" fill="#ffffff"/><rect x="447" y="8" width="1" height="15" fill="#505050"/><rect x="445" y="20" width="15" height="1" fill="#505050"/><polygon points="447.5,6.5 445.5,9.5 449.5,9.5" fill="#505050"/><polygon points="461,20.5 458,18.5 458,22.5" fill="#505050"/><polygon points="453,10 453,17 458,13.5" fill="#2aa02a"/><rect x="454" y="12" width="1" height="3" fill="#e8f8e8"/><defs><pattern id="chk" width="2" height="2" patternUnits="userSpaceOnUse"><rect width="2" height="2" fill="#f4f4f4"/><rect width="1" height="1" fill="#ffffff"/><rect x="1" y="1" width="1" height="1" fill="#ffffff"/></pattern></defs><rect x="468" y="2" width="25" height="22" fill="url(#chk)"/><rect x="468" y="2" width="25" height="1" fill="#a0a0a0"/><rect x="468" y="2" width="1" height="22" fill="#a0a0a0"/><rect x="492" y="3" width="1" height="21" fill="#ffffff"/><rect x="468" y="23" width="25" height="1" fill="#ffffff"/><rect x="475" y="8" width="1" height="15" fill="#505050"/><rect x="473" y="20" width="15" height="1" fill="#505050"/><polygon points="475.5,6.5 473.5,9.5 477.5,9.5" fill="#505050"/><polygon points="489,20.5 486,18.5 486,22.5" fill="#505050"/><rect x="482" y="8" width="1" height="11" fill="#2a6fb8"/><polygon points="483,13.5 487,10.5 487,16.5" fill="#e04010"/><rect x="485" y="13" width="4" height="1" fill="#e04010"/><rect x="497" y="2" width="1" height="22" fill="#a0a0a0"/><rect x="498" y="2" width="1" height="22" fill="#ffffff"/><path d="M507.5,6.5 h7 l3,3 v9 h-10 z" fill="#fafafa" stroke="#666" stroke-width="1" shape-rendering="auto"/><path d="M512.5,11.5 h4 v4 h4 v4 h-4 v4 h-4 v-4 h-4 v-4 h4 z" fill="#3ec83e" stroke="#1a8a1a" stroke-width="1" shape-rendering="auto"/><polygon points="528,13 534,13 531,16" fill="#000"/><circle cx="553" cy="14" r="8" fill="#1f62c8" shape-rendering="auto"/><circle cx="553" cy="14" r="6.5" fill="#4f9ae8" shape-rendering="auto"/><circle cx="553" cy="14" r="5" fill="#f4f8fc" shape-rendering="auto"/><path d="M553,10.5 V14 H556" stroke="#333" stroke-width="1" fill="none" shape-rendering="auto" /><polygon points="567,13 573,13 570,16" fill="#000"/><rect x="584.5" y="7.5" width="15" height="13" fill="#fff" stroke="#2a5fc8" stroke-width="1"/><rect x="585" y="8" width="14" height="2" fill="#6a9ae0"/><rect x="585" y="14" width="14" height="1" fill="#2a5fc8"/><path d="M586,13 l3,-1 l3,1 l3,-1.5 l3,0.5" stroke="#c03020" stroke-width="1" fill="none" shape-rendering="auto" /><path d="M586,19 l3,-1.5 l3,1 l3,-2 l3,1.5" stroke="#2aa02a" stroke-width="1" fill="none" shape-rendering="auto" /><polygon points="606,13 612,13 609,16" fill="#000"/><rect x="618" y="2" width="1" height="22" fill="#a0a0a0"/><rect x="619" y="2" width="1" height="22" fill="#ffffff"/><rect x="622" y="4" width="3" height="1" fill="#9a9a9a"/><rect x="622" y="6" width="3" height="1" fill="#9a9a9a"/><rect x="622" y="8" width="3" height="1" fill="#9a9a9a"/><rect x="622" y="10" width="3" height="1" fill="#9a9a9a"/><rect x="622" y="12" width="3" height="1" fill="#9a9a9a"/><rect x="622" y="14" width="3" height="1" fill="#9a9a9a"/><rect x="622" y="16" width="3" height="1" fill="#9a9a9a"/><rect x="622" y="18" width="3" height="1" fill="#9a9a9a"/><rect x="622" y="20" width="3" height="1" fill="#9a9a9a"/><rect x="622" y="22" width="3" height="1" fill="#9a9a9a"/><defs><pattern id="chk" width="2" height="2" patternUnits="userSpaceOnUse"><rect width="2" height="2" fill="#f4f4f4"/><rect width="1" height="1" fill="#ffffff"/><rect x="1" y="1" width="1" height="1" fill="#ffffff"/></pattern></defs><rect x="628" y="2" width="25" height="22" fill="url(#chk)"/><rect x="628" y="2" width="25" height="1" fill="#a0a0a0"/><rect x="628" y="2" width="1" height="22" fill="#a0a0a0"/><rect x="652" y="3" width="1" height="21" fill="#ffffff"/><rect x="628" y="23" width="25" height="1" fill="#ffffff"/><polygon points="636,7 636,18 638.5,15.5 641,20.5 643,19.5 640.5,14.5 644,14" fill="#4a4a4a" shape-rendering="auto"/><rect x="668" y="7" width="1" height="15" fill="#505050"/><rect x="661" y="14" width="15" height="1" fill="#505050"/><rect x="668" y="14" width="1" height="1" fill="#f0f0f0"/><rect x="685" y="2" width="1" height="22" fill="#a0a0a0"/><rect x="686" y="2" width="1" height="22" fill="#ffffff"/><rect x="702" y="8" width="1" height="12" fill="#505050"/><rect x="725" y="14" width="12" height="1" fill="#505050"/><path d="M753,20.5 L765,9" stroke="#505050" stroke-width="1.2" fill="none" shape-rendering="auto" /><path d="M779,19 L790,8 M781,21 L792,10 M783,13 l4,4 M786,10 l4,4" stroke="#505050" stroke-width="1.1" fill="none" shape-rendering="auto" /><text x="789" y="22.5" font-size="6.5" font-weight="bold" fill="#404040">E</text><line x1="808" y1="7.5" x2="821" y2="7.5" stroke="#505050" stroke-width="1" stroke-dasharray="1 1"/><line x1="808" y1="10.5" x2="821" y2="10.5" stroke="#505050" stroke-width="1" stroke-dasharray="1 1"/><line x1="808" y1="13.5" x2="821" y2="13.5" stroke="#505050" stroke-width="1" stroke-dasharray="1 1"/><line x1="808" y1="17.5" x2="821" y2="17.5" stroke="#505050" stroke-width="1" stroke-dasharray="1 1"/><line x1="808" y1="19.5" x2="821" y2="19.5" stroke="#505050" stroke-width="1" stroke-dasharray="1 1"/><text x="817.5" y="22.5" font-size="6.5" font-weight="bold" fill="#404040">F</text><text x="838" y="19" font-size="12" font-weight="bold" fill="#505050" textLength="9" lengthAdjust="spacingAndGlyphs">A</text><rect x="864.5" y="7.5" width="12" height="13" fill="none" stroke="#606060" stroke-width="1" stroke-dasharray="1 1"/><text x="866" y="18.5" font-size="12" font-weight="bold" fill="#505050" textLength="9" lengthAdjust="spacingAndGlyphs">T</text><polygon points="895,8 898,11 892,11" fill="#404040"/><polygon points="903,18 906,21 900,21" fill="#404040" transform="rotate(180 903 19.5)"/><path d="M894,13 l3,3 l5,-5" stroke="#404040" stroke-width="1.6" fill="none" shape-rendering="auto" /><polygon points="914,13 920,13 917,16" fill="#000"/><rect x="924" y="2" width="1" height="22" fill="#a0a0a0"/><rect x="925" y="2" width="1" height="22" fill="#ffffff"/><rect x="929" y="4" width="3" height="1" fill="#9a9a9a"/><rect x="929" y="6" width="3" height="1" fill="#9a9a9a"/><rect x="929" y="8" width="3" height="1" fill="#9a9a9a"/><rect x="929" y="10" width="3" height="1" fill="#9a9a9a"/><rect x="929" y="12" width="3" height="1" fill="#9a9a9a"/><rect x="929" y="14" width="3" height="1" fill="#9a9a9a"/><rect x="929" y="16" width="3" height="1" fill="#9a9a9a"/><rect x="929" y="18" width="3" height="1" fill="#9a9a9a"/><rect x="929" y="20" width="3" height="1" fill="#9a9a9a"/><rect x="929" y="22" width="3" height="1" fill="#9a9a9a"/><defs><pattern id="chk" width="2" height="2" patternUnits="userSpaceOnUse"><rect width="2" height="2" fill="#f4f4f4"/><rect width="1" height="1" fill="#ffffff"/><rect x="1" y="1" width="1" height="1" fill="#ffffff"/></pattern></defs><rect x="1074" y="2" width="26" height="22" fill="url(#chk)"/><rect x="1074" y="2" width="26" height="1" fill="#a0a0a0"/><rect x="1074" y="2" width="1" height="22" fill="#a0a0a0"/><rect x="1099" y="3" width="1" height="21" fill="#ffffff"/><rect x="1074" y="23" width="26" height="1" fill="#ffffff"/><text x="939" y="18" font-size="9.5" fill="#222" textLength="13" lengthAdjust="spacingAndGlyphs">M1</text><text x="967" y="18" font-size="9.5" fill="#222" textLength="13" lengthAdjust="spacingAndGlyphs">M5</text><text x="993" y="18" font-size="9.5" fill="#222" textLength="18" lengthAdjust="spacingAndGlyphs">M15</text><text x="1021" y="18" font-size="9.5" fill="#222" textLength="18" lengthAdjust="spacingAndGlyphs">M30</text><text x="1052" y="18" font-size="9.5" fill="#222" textLength="13" lengthAdjust="spacingAndGlyphs">H1</text><text x="1079" y="18" font-size="9.5" fill="#222" textLength="13" lengthAdjust="spacingAndGlyphs">H4</text><text x="1108" y="18" font-size="9.5" fill="#222" textLength="13" lengthAdjust="spacingAndGlyphs">D1</text><text x="1136" y="18" font-size="9.5" fill="#222" textLength="14" lengthAdjust="spacingAndGlyphs">W1</text><text x="1163" y="18" font-size="9.5" fill="#222" textLength="15" lengthAdjust="spacingAndGlyphs">MN</text><rect x="1185" y="2" width="1" height="22" fill="#a0a0a0"/><rect x="1186" y="2" width="1" height="22" fill="#ffffff"/><circle cx="1655.5" cy="10.5" r="3.6" fill="none" stroke="#2a62c8" stroke-width="1.8" shape-rendering="auto"/><path d="M1653,13.5 L1648.5,19" stroke="#2a62c8" stroke-width="2.4" fill="none" shape-rendering="auto" /><ellipse cx="1679" cy="17" rx="6.5" ry="4.5" fill="#e8e8e8" stroke="#a8a8a8" stroke-width="1" shape-rendering="auto"/><path d="M1675,20.5 l-2,3 l4,-2" stroke="#a8a8a8" stroke-width="1" fill="none" shape-rendering="auto" /><circle cx="1686" cy="11.5" r="7.8" fill="#d9281e" shape-rendering="auto"/><text x="1683" y="16" font-size="11" fill="#fff" font-weight="bold">1</text>
<defs><linearGradient id="tabg" x1="0" y1="0" x2="0" y2="1"><stop offset="0" stop-color="#ff5c5c"/><stop offset="1" stop-color="#e02a2a"/></linearGradient><linearGradient id="blkg" x1="0" y1="0" x2="0" y2="1"><stop offset="0" stop-color="#d93030"/><stop offset="1" stop-color="#b00606"/></linearGradient><linearGradient id="btng" x1="0" y1="0" x2="0" y2="1"><stop offset="0" stop-color="#f2f2f2"/><stop offset="0.45" stop-color="#e6e6e6"/><stop offset="0.5" stop-color="#d6d6d6"/><stop offset="1" stop-color="#cdcdcd"/></linearGradient></defs><polygon points="0,36.5 4,41 0,41" fill="#000"/><text x="9.5" y="42" font-size="10" fill="#000" style="white-space:pre" textLength="185.5" lengthAdjust="spacingAndGlyphs">DJ30-,H4  34230.5 34230.5 34230.5 34230.5</text><rect x="0" y="48" width="217" height="60" fill="#fff"/><rect x="0" y="50" width="49" height="25" fill="url(#tabg)"/><rect x="0" y="74" width="106" height="33" fill="url(#blkg)"/><rect x="0" y="50" width="49" height="1" fill="#c40c0c"/><rect x="48" y="50" width="1" height="24" fill="#c40c0c"/><rect x="48" y="74" width="58" height="1" fill="#c40c0c"/><rect x="105" y="74" width="1" height="33" fill="#b00808"/><rect x="0" y="106" width="106" height="1" fill="#a00404"/><rect x="1" y="73" width="44" height="1" fill="#a00a0a"/><rect x="1" y="74" width="44" height="1" fill="#f06060"/><rect x="164" y="50" width="52" height="25" fill="url(#tabg)"/><rect x="108" y="74" width="108" height="33" fill="url(#blkg)"/><rect x="164" y="50" width="52" height="1" fill="#c40c0c"/><rect x="164" y="50" width="1" height="24" fill="#c40c0c"/><rect x="215" y="50" width="1" height="57" fill="#b00808"/><rect x="108" y="74" width="57" height="1" fill="#c40c0c"/><rect x="108" y="74" width="1" height="33" fill="#b00808"/><rect x="108" y="106" width="108" height="1" fill="#a00404"/><rect x="168" y="73" width="44" height="1" fill="#a00a0a"/><rect x="168" y="74" width="44" height="1" fill="#f06060"/><rect x="51.5" y="50.5" width="110" height="21" fill="#fff" stroke="#a9aeb6" stroke-width="1"/><rect x="53" y="52" width="19" height="18" fill="url(#btng)"/><rect x="72" y="51" width="1" height="20" fill="#b5b9bf"/><rect x="142" y="52" width="19" height="18" fill="url(#btng)"/><rect x="140" y="51" width="1" height="20" fill="#b5b9bf"/><polygon points="59,59 64.5,59 61.75,62" fill="#4a5ec8"/><polygon points="148,62 153.5,62 150.75,59" fill="#4a5ec8"/><text x="117.5" y="65.5" font-size="11" fill="#000" textLength="19" lengthAdjust="spacingAndGlyphs">1.00</text><text x="9" y="66" font-size="11.5" fill="#fff" textLength="26" lengthAdjust="spacingAndGlyphs">SELL</text><text x="177.5" y="66" font-size="11.5" fill="#fff" textLength="23.5" lengthAdjust="spacingAndGlyphs">BUY</text><text x="13.5" y="102" font-size="12" font-weight="bold" fill="#fff" textLength="34" lengthAdjust="spacingAndGlyphs">34229</text><rect x="52" y="98" width="4" height="4" rx="1.5" fill="#fff" shape-rendering="auto"/><text x="58.5" y="102" font-size="33" fill="#fff" textLength="17" lengthAdjust="spacingAndGlyphs">0</text><text x="123.5" y="102" font-size="12" font-weight="bold" fill="#fff" textLength="34.5" lengthAdjust="spacingAndGlyphs">34239</text><rect x="163" y="98" width="4" height="4" rx="1.5" fill="#fff" shape-rendering="auto"/><text x="169.5" y="102" font-size="33" fill="#fff" textLength="17" lengthAdjust="spacingAndGlyphs">0</text>
</svg></body></html>
